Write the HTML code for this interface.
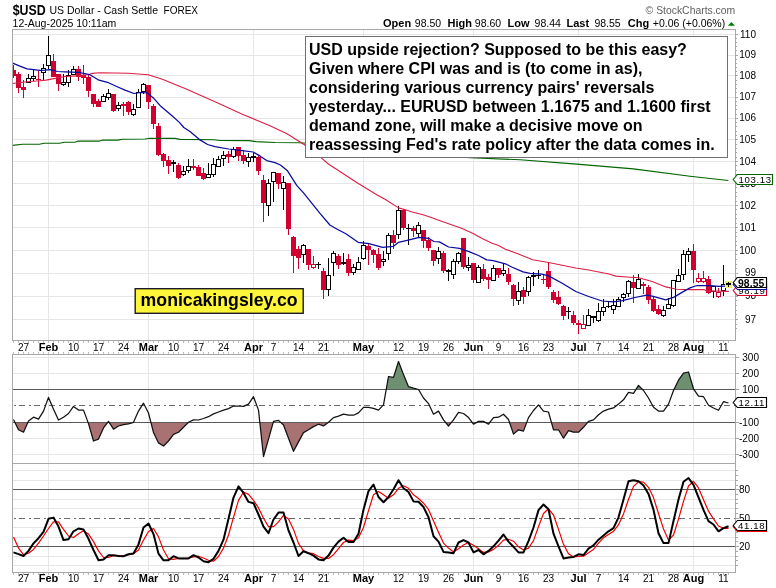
<!DOCTYPE html>
<html><head><meta charset="utf-8"><title>$USD chart</title><style>
html,body{margin:0;padding:0;background:#fff;}
body{width:776px;height:588px;position:relative;overflow:hidden;}
svg{position:absolute;left:0;top:0;display:block;}
</style></head><body>
<svg width="776" height="588" viewBox="0 0 776 588">
<g shape-rendering="crispEdges">
<rect x="13" y="319" width="722" height="1" fill="#e6e6e6"/>
<rect x="13" y="296" width="722" height="1" fill="#e6e6e6"/>
<rect x="13" y="273" width="722" height="1" fill="#e6e6e6"/>
<rect x="13" y="250" width="722" height="1" fill="#e6e6e6"/>
<rect x="13" y="227" width="722" height="1" fill="#e6e6e6"/>
<rect x="13" y="205" width="722" height="1" fill="#e6e6e6"/>
<rect x="13" y="183" width="722" height="1" fill="#e6e6e6"/>
<rect x="13" y="161" width="722" height="1" fill="#e6e6e6"/>
<rect x="13" y="139" width="722" height="1" fill="#e6e6e6"/>
<rect x="13" y="118" width="722" height="1" fill="#e6e6e6"/>
<rect x="13" y="97" width="722" height="1" fill="#e6e6e6"/>
<rect x="13" y="75" width="722" height="1" fill="#e6e6e6"/>
<rect x="13" y="55" width="722" height="1" fill="#e6e6e6"/>
<rect x="13" y="34" width="722" height="1" fill="#e6e6e6"/>
<rect x="48" y="30" width="1" height="310" fill="#e6e6e6"/>
<rect x="48" y="355" width="1" height="216" fill="#e6e6e6"/>
<rect x="148" y="30" width="1" height="310" fill="#e6e6e6"/>
<rect x="148" y="355" width="1" height="216" fill="#e6e6e6"/>
<rect x="253" y="30" width="1" height="310" fill="#e6e6e6"/>
<rect x="253" y="355" width="1" height="216" fill="#e6e6e6"/>
<rect x="363" y="30" width="1" height="310" fill="#e6e6e6"/>
<rect x="363" y="355" width="1" height="216" fill="#e6e6e6"/>
<rect x="473" y="30" width="1" height="310" fill="#e6e6e6"/>
<rect x="473" y="355" width="1" height="216" fill="#e6e6e6"/>
<rect x="578" y="30" width="1" height="310" fill="#e6e6e6"/>
<rect x="578" y="355" width="1" height="216" fill="#e6e6e6"/>
<rect x="693" y="30" width="1" height="310" fill="#e6e6e6"/>
<rect x="693" y="355" width="1" height="216" fill="#e6e6e6"/>
<rect x="13" y="357" width="722" height="1" fill="#e6e6e6"/>
<rect x="13" y="373" width="722" height="1" fill="#e6e6e6"/>
<rect x="13" y="389" width="722" height="1" fill="#5a5a5a"/>
<rect x="13" y="422" width="722" height="1" fill="#5a5a5a"/>
<rect x="13" y="438" width="722" height="1" fill="#e6e6e6"/>
<rect x="13" y="454" width="722" height="1" fill="#e6e6e6"/>
<rect x="13" y="470" width="722" height="1" fill="#e6e6e6"/>
<rect x="13" y="480" width="722" height="1" fill="#e6e6e6"/>
<rect x="13" y="489" width="722" height="1" fill="#5a5a5a"/>
<rect x="13" y="499" width="722" height="1" fill="#e6e6e6"/>
<rect x="13" y="508" width="722" height="1" fill="#e6e6e6"/>
<rect x="13" y="527" width="722" height="1" fill="#e6e6e6"/>
<rect x="13" y="537" width="722" height="1" fill="#e6e6e6"/>
<rect x="13" y="546" width="722" height="1" fill="#5a5a5a"/>
<rect x="13" y="556" width="722" height="1" fill="#e6e6e6"/>
<rect x="13" y="565" width="722" height="1" fill="#e6e6e6"/>
</g>
<line x1="13.5" y1="405.5" x2="735" y2="405.5" stroke="#6a6a6a" stroke-width="1" stroke-dasharray="2,3,6.5,3.5" shape-rendering="crispEdges"/>
<line x1="13.5" y1="518.5" x2="735" y2="518.5" stroke="#6a6a6a" stroke-width="1" stroke-dasharray="2,3,6.5,3.5" shape-rendering="crispEdges"/>
<polygon points="15.0,422.5 18.5,429.8 23.5,432.2 27.8,422.5" fill="#a87272"/>
<polygon points="88.1,422.5 88.5,423.6 93.5,441.0 98.5,439.1 103.5,427.9 107.7,422.5" fill="#a87272"/>
<polygon points="109.2,422.5 113.5,429.2 118.5,426.0 123.5,424.7 128.5,423.8 132.8,422.5" fill="#a87272"/>
<polygon points="150.9,422.5 153.5,432.6 158.5,442.9 163.5,446.0 168.5,441.0 173.5,434.4 178.5,432.2 183.5,427.3 188.3,422.5" fill="#a87272"/>
<polygon points="259.8,422.5 263.5,456.5 268.5,439.1 273.2,422.5" fill="#a87272"/>
<polygon points="280.8,422.5 283.5,425.0 288.5,438.2 293.5,451.3 298.5,441.9 303.5,432.6 308.5,429.8 313.5,426.6 318.5,424.2 323.5,426.0 328.2,422.5" fill="#a87272"/>
<polygon points="445.6,422.5 448.5,426.0 451.4,422.5" fill="#a87272"/>
<polygon points="472.2,422.5 473.5,424.2 476.5,422.5" fill="#a87272"/>
<polygon points="485.5,422.5 488.5,424.2 489.8,422.5" fill="#a87272"/>
<polygon points="509.5,422.5 513.5,434.1 518.5,429.8 523.5,431.1 526.7,422.5" fill="#a87272"/>
<polygon points="551.4,422.5 553.5,429.8 558.5,429.8 563.5,438.2 568.5,430.7 573.5,432.2 578.5,432.2 583.5,427.3 587.6,422.5" fill="#a87272"/>
<polygon points="386.2,389.5 388.5,376.5 393.5,377.4 398.5,361.5 403.5,374.6 408.5,386.7 413.5,388.2 418.5,389.5" fill="#6e9070"/>
<polygon points="635.9,389.5 638.5,385.4 642.5,389.5" fill="#6e9070"/>
<polygon points="674.0,389.5 678.5,380.2 683.5,373.1 688.5,372.0 693.5,388.8 694.0,389.5" fill="#6e9070"/>
<g shape-rendering="crispEdges">
<rect x="13" y="389" width="722" height="1" fill="#5a5a5a"/>
<rect x="13" y="422" width="722" height="1" fill="#5a5a5a"/>
</g>
<g shape-rendering="crispEdges">
<rect x="13" y="65" width="1" height="5" fill="#d00030"/>
<rect x="13" y="76" width="1" height="2" fill="#d00030"/>
<rect x="13" y="70" width="3" height="6" fill="#d00030"/>
<rect x="18" y="72" width="1" height="2" fill="#d00030"/>
<rect x="18" y="88" width="1" height="5" fill="#d00030"/>
<rect x="16" y="74" width="5" height="14" fill="#d00030"/>
<rect x="23" y="80" width="1" height="7" fill="#d00030"/>
<rect x="23" y="90" width="1" height="8" fill="#d00030"/>
<rect x="21" y="87" width="5" height="3" fill="#d00030"/>
<rect x="28" y="74" width="1" height="4" fill="#000"/>
<rect x="26" y="78" width="5" height="5" fill="#000"/>
<rect x="27" y="79" width="3" height="3" fill="#fff"/>
<rect x="33" y="70" width="1" height="6" fill="#000"/>
<rect x="33" y="79" width="1" height="2" fill="#000"/>
<rect x="31" y="76" width="5" height="3" fill="#000"/>
<rect x="32" y="77" width="3" height="1" fill="#fff"/>
<rect x="38" y="71" width="1" height="8" fill="#d00030"/>
<rect x="38" y="80" width="1" height="7" fill="#d00030"/>
<rect x="36" y="79" width="5" height="1" fill="#d00030"/>
<rect x="43" y="64" width="1" height="4" fill="#000"/>
<rect x="43" y="73" width="1" height="7" fill="#000"/>
<rect x="41" y="68" width="5" height="5" fill="#000"/>
<rect x="42" y="69" width="3" height="3" fill="#fff"/>
<rect x="48" y="36" width="1" height="19" fill="#000"/>
<rect x="48" y="66" width="1" height="3" fill="#000"/>
<rect x="46" y="55" width="5" height="11" fill="#000"/>
<rect x="47" y="56" width="3" height="9" fill="#fff"/>
<rect x="53" y="54" width="1" height="7" fill="#d00030"/>
<rect x="51" y="61" width="5" height="16" fill="#d00030"/>
<rect x="58" y="84" width="1" height="7" fill="#d00030"/>
<rect x="56" y="74" width="5" height="10" fill="#d00030"/>
<rect x="63" y="74" width="1" height="8" fill="#000"/>
<rect x="63" y="85" width="1" height="1" fill="#000"/>
<rect x="61" y="82" width="5" height="3" fill="#000"/>
<rect x="62" y="83" width="3" height="1" fill="#fff"/>
<rect x="68" y="70" width="1" height="5" fill="#000"/>
<rect x="68" y="83" width="1" height="4" fill="#000"/>
<rect x="66" y="75" width="5" height="8" fill="#000"/>
<rect x="67" y="76" width="3" height="6" fill="#fff"/>
<rect x="73" y="66" width="1" height="3" fill="#000"/>
<rect x="71" y="69" width="5" height="6" fill="#000"/>
<rect x="72" y="70" width="3" height="4" fill="#fff"/>
<rect x="78" y="66" width="1" height="3" fill="#d00030"/>
<rect x="78" y="77" width="1" height="4" fill="#d00030"/>
<rect x="76" y="69" width="5" height="8" fill="#d00030"/>
<rect x="83" y="65" width="1" height="10" fill="#d00030"/>
<rect x="83" y="78" width="1" height="6" fill="#d00030"/>
<rect x="81" y="75" width="5" height="3" fill="#d00030"/>
<rect x="88" y="75" width="1" height="2" fill="#d00030"/>
<rect x="88" y="91" width="1" height="6" fill="#d00030"/>
<rect x="86" y="77" width="5" height="14" fill="#d00030"/>
<rect x="93" y="104" width="1" height="3" fill="#d00030"/>
<rect x="91" y="94" width="5" height="10" fill="#d00030"/>
<rect x="98" y="99" width="1" height="2" fill="#d00030"/>
<rect x="96" y="101" width="5" height="6" fill="#d00030"/>
<rect x="103" y="94" width="1" height="2" fill="#000"/>
<rect x="101" y="96" width="5" height="6" fill="#000"/>
<rect x="102" y="97" width="3" height="4" fill="#fff"/>
<rect x="108" y="89" width="1" height="4" fill="#000"/>
<rect x="108" y="98" width="1" height="2" fill="#000"/>
<rect x="106" y="93" width="5" height="5" fill="#000"/>
<rect x="107" y="94" width="3" height="3" fill="#fff"/>
<rect x="113" y="111" width="1" height="1" fill="#d00030"/>
<rect x="111" y="94" width="5" height="17" fill="#d00030"/>
<rect x="118" y="102" width="1" height="3" fill="#000"/>
<rect x="118" y="109" width="1" height="2" fill="#000"/>
<rect x="116" y="105" width="5" height="4" fill="#000"/>
<rect x="117" y="106" width="3" height="2" fill="#fff"/>
<rect x="123" y="102" width="1" height="2" fill="#d00030"/>
<rect x="123" y="106" width="1" height="10" fill="#d00030"/>
<rect x="121" y="104" width="5" height="2" fill="#d00030"/>
<rect x="128" y="101" width="1" height="1" fill="#d00030"/>
<rect x="128" y="112" width="1" height="3" fill="#d00030"/>
<rect x="126" y="102" width="5" height="10" fill="#d00030"/>
<rect x="133" y="104" width="1" height="5" fill="#000"/>
<rect x="133" y="115" width="1" height="1" fill="#000"/>
<rect x="131" y="109" width="5" height="6" fill="#000"/>
<rect x="132" y="110" width="3" height="4" fill="#fff"/>
<rect x="138" y="89" width="1" height="3" fill="#000"/>
<rect x="136" y="92" width="5" height="16" fill="#000"/>
<rect x="137" y="93" width="3" height="14" fill="#fff"/>
<rect x="143" y="83" width="1" height="1" fill="#000"/>
<rect x="143" y="92" width="1" height="2" fill="#000"/>
<rect x="141" y="84" width="5" height="8" fill="#000"/>
<rect x="142" y="85" width="3" height="6" fill="#fff"/>
<rect x="148" y="102" width="1" height="7" fill="#d00030"/>
<rect x="146" y="85" width="5" height="17" fill="#d00030"/>
<rect x="153" y="104" width="1" height="2" fill="#d00030"/>
<rect x="153" y="124" width="1" height="5" fill="#d00030"/>
<rect x="151" y="106" width="5" height="18" fill="#d00030"/>
<rect x="158" y="123" width="1" height="3" fill="#d00030"/>
<rect x="158" y="155" width="1" height="1" fill="#d00030"/>
<rect x="156" y="126" width="5" height="29" fill="#d00030"/>
<rect x="163" y="153" width="1" height="1" fill="#d00030"/>
<rect x="163" y="161" width="1" height="6" fill="#d00030"/>
<rect x="161" y="154" width="5" height="7" fill="#d00030"/>
<rect x="168" y="156" width="1" height="4" fill="#d00030"/>
<rect x="168" y="166" width="1" height="8" fill="#d00030"/>
<rect x="166" y="160" width="5" height="6" fill="#d00030"/>
<rect x="173" y="160" width="1" height="2" fill="#000"/>
<rect x="173" y="164" width="1" height="8" fill="#000"/>
<rect x="171" y="162" width="5" height="2" fill="#000"/>
<rect x="178" y="163" width="1" height="2" fill="#d00030"/>
<rect x="178" y="178" width="1" height="1" fill="#d00030"/>
<rect x="176" y="165" width="5" height="13" fill="#d00030"/>
<rect x="183" y="166" width="1" height="5" fill="#000"/>
<rect x="183" y="175" width="1" height="1" fill="#000"/>
<rect x="181" y="171" width="5" height="4" fill="#000"/>
<rect x="182" y="172" width="3" height="2" fill="#fff"/>
<rect x="188" y="159" width="1" height="7" fill="#000"/>
<rect x="188" y="171" width="1" height="2" fill="#000"/>
<rect x="186" y="166" width="5" height="5" fill="#000"/>
<rect x="187" y="167" width="3" height="3" fill="#fff"/>
<rect x="193" y="159" width="1" height="7" fill="#d00030"/>
<rect x="193" y="168" width="1" height="2" fill="#d00030"/>
<rect x="191" y="166" width="5" height="2" fill="#d00030"/>
<rect x="198" y="165" width="1" height="2" fill="#d00030"/>
<rect x="196" y="167" width="5" height="9" fill="#d00030"/>
<rect x="203" y="168" width="1" height="5" fill="#d00030"/>
<rect x="203" y="179" width="1" height="1" fill="#d00030"/>
<rect x="201" y="173" width="5" height="6" fill="#d00030"/>
<rect x="208" y="163" width="1" height="11" fill="#000"/>
<rect x="206" y="174" width="5" height="4" fill="#000"/>
<rect x="207" y="175" width="3" height="2" fill="#fff"/>
<rect x="213" y="158" width="1" height="6" fill="#000"/>
<rect x="213" y="175" width="1" height="2" fill="#000"/>
<rect x="211" y="164" width="5" height="11" fill="#000"/>
<rect x="212" y="165" width="3" height="9" fill="#fff"/>
<rect x="218" y="156" width="1" height="3" fill="#000"/>
<rect x="216" y="159" width="5" height="8" fill="#000"/>
<rect x="217" y="160" width="3" height="6" fill="#fff"/>
<rect x="223" y="151" width="1" height="4" fill="#000"/>
<rect x="223" y="159" width="1" height="7" fill="#000"/>
<rect x="221" y="155" width="5" height="4" fill="#000"/>
<rect x="222" y="156" width="3" height="2" fill="#fff"/>
<rect x="228" y="151" width="1" height="3" fill="#d00030"/>
<rect x="228" y="157" width="1" height="6" fill="#d00030"/>
<rect x="226" y="154" width="5" height="3" fill="#d00030"/>
<rect x="233" y="147" width="1" height="2" fill="#000"/>
<rect x="233" y="157" width="1" height="1" fill="#000"/>
<rect x="231" y="149" width="5" height="8" fill="#000"/>
<rect x="232" y="150" width="3" height="6" fill="#fff"/>
<rect x="238" y="156" width="1" height="5" fill="#d00030"/>
<rect x="236" y="147" width="5" height="9" fill="#d00030"/>
<rect x="243" y="150" width="1" height="5" fill="#d00030"/>
<rect x="243" y="161" width="1" height="3" fill="#d00030"/>
<rect x="241" y="155" width="5" height="6" fill="#d00030"/>
<rect x="248" y="153" width="1" height="4" fill="#000"/>
<rect x="248" y="162" width="1" height="5" fill="#000"/>
<rect x="246" y="157" width="5" height="5" fill="#000"/>
<rect x="247" y="158" width="3" height="3" fill="#fff"/>
<rect x="253" y="153" width="1" height="3" fill="#000"/>
<rect x="253" y="158" width="1" height="4" fill="#000"/>
<rect x="251" y="156" width="5" height="2" fill="#000"/>
<rect x="258" y="155" width="1" height="2" fill="#d00030"/>
<rect x="258" y="171" width="1" height="4" fill="#d00030"/>
<rect x="256" y="157" width="5" height="14" fill="#d00030"/>
<rect x="263" y="175" width="1" height="5" fill="#d00030"/>
<rect x="263" y="203" width="1" height="19" fill="#d00030"/>
<rect x="261" y="180" width="5" height="23" fill="#d00030"/>
<rect x="268" y="179" width="1" height="4" fill="#000"/>
<rect x="268" y="206" width="1" height="10" fill="#000"/>
<rect x="266" y="183" width="5" height="23" fill="#000"/>
<rect x="267" y="184" width="3" height="21" fill="#fff"/>
<rect x="273" y="182" width="1" height="20" fill="#000"/>
<rect x="271" y="172" width="5" height="10" fill="#000"/>
<rect x="272" y="173" width="3" height="8" fill="#fff"/>
<rect x="278" y="184" width="1" height="5" fill="#d00030"/>
<rect x="276" y="173" width="5" height="11" fill="#d00030"/>
<rect x="283" y="176" width="1" height="6" fill="#000"/>
<rect x="283" y="189" width="1" height="21" fill="#000"/>
<rect x="281" y="182" width="5" height="7" fill="#000"/>
<rect x="282" y="183" width="3" height="5" fill="#fff"/>
<rect x="288" y="229" width="1" height="6" fill="#d00030"/>
<rect x="286" y="183" width="5" height="46" fill="#d00030"/>
<rect x="293" y="236" width="1" height="1" fill="#d00030"/>
<rect x="293" y="256" width="1" height="17" fill="#d00030"/>
<rect x="291" y="237" width="5" height="19" fill="#d00030"/>
<rect x="298" y="246" width="1" height="3" fill="#d00030"/>
<rect x="298" y="258" width="1" height="11" fill="#d00030"/>
<rect x="296" y="249" width="5" height="9" fill="#d00030"/>
<rect x="303" y="244" width="1" height="1" fill="#000"/>
<rect x="303" y="255" width="1" height="8" fill="#000"/>
<rect x="301" y="245" width="5" height="10" fill="#000"/>
<rect x="302" y="246" width="3" height="8" fill="#fff"/>
<rect x="308" y="265" width="1" height="5" fill="#d00030"/>
<rect x="306" y="249" width="5" height="16" fill="#d00030"/>
<rect x="313" y="256" width="1" height="8" fill="#d00030"/>
<rect x="313" y="268" width="1" height="1" fill="#d00030"/>
<rect x="311" y="264" width="5" height="4" fill="#d00030"/>
<rect x="312" y="265" width="3" height="2" fill="#fff"/>
<rect x="318" y="262" width="1" height="2" fill="#000"/>
<rect x="318" y="265" width="1" height="4" fill="#000"/>
<rect x="316" y="264" width="5" height="1" fill="#000"/>
<rect x="323" y="268" width="1" height="3" fill="#d00030"/>
<rect x="323" y="290" width="1" height="9" fill="#d00030"/>
<rect x="321" y="271" width="5" height="19" fill="#d00030"/>
<rect x="328" y="258" width="1" height="17" fill="#000"/>
<rect x="328" y="290" width="1" height="6" fill="#000"/>
<rect x="326" y="275" width="5" height="15" fill="#000"/>
<rect x="327" y="276" width="3" height="13" fill="#fff"/>
<rect x="333" y="251" width="1" height="2" fill="#000"/>
<rect x="333" y="263" width="1" height="13" fill="#000"/>
<rect x="331" y="253" width="5" height="10" fill="#000"/>
<rect x="332" y="254" width="3" height="8" fill="#fff"/>
<rect x="338" y="254" width="1" height="2" fill="#d00030"/>
<rect x="338" y="265" width="1" height="4" fill="#d00030"/>
<rect x="336" y="256" width="5" height="9" fill="#d00030"/>
<rect x="343" y="253" width="1" height="9" fill="#000"/>
<rect x="343" y="264" width="1" height="1" fill="#000"/>
<rect x="341" y="262" width="5" height="2" fill="#000"/>
<rect x="348" y="254" width="1" height="5" fill="#d00030"/>
<rect x="348" y="273" width="1" height="3" fill="#d00030"/>
<rect x="346" y="259" width="5" height="14" fill="#d00030"/>
<rect x="353" y="264" width="1" height="3" fill="#000"/>
<rect x="353" y="273" width="1" height="2" fill="#000"/>
<rect x="351" y="267" width="5" height="6" fill="#000"/>
<rect x="352" y="268" width="3" height="4" fill="#fff"/>
<rect x="358" y="257" width="1" height="5" fill="#000"/>
<rect x="356" y="262" width="5" height="8" fill="#000"/>
<rect x="357" y="263" width="3" height="6" fill="#fff"/>
<rect x="363" y="241" width="1" height="4" fill="#000"/>
<rect x="363" y="259" width="1" height="1" fill="#000"/>
<rect x="361" y="245" width="5" height="14" fill="#000"/>
<rect x="362" y="246" width="3" height="12" fill="#fff"/>
<rect x="368" y="244" width="1" height="2" fill="#d00030"/>
<rect x="368" y="250" width="1" height="15" fill="#d00030"/>
<rect x="366" y="246" width="5" height="4" fill="#d00030"/>
<rect x="373" y="249" width="1" height="1" fill="#d00030"/>
<rect x="373" y="255" width="1" height="8" fill="#d00030"/>
<rect x="371" y="250" width="5" height="5" fill="#d00030"/>
<rect x="378" y="248" width="1" height="6" fill="#d00030"/>
<rect x="378" y="268" width="1" height="2" fill="#d00030"/>
<rect x="376" y="254" width="5" height="14" fill="#d00030"/>
<rect x="383" y="251" width="1" height="8" fill="#000"/>
<rect x="383" y="262" width="1" height="4" fill="#000"/>
<rect x="381" y="259" width="5" height="3" fill="#000"/>
<rect x="382" y="260" width="3" height="1" fill="#fff"/>
<rect x="388" y="233" width="1" height="2" fill="#000"/>
<rect x="388" y="254" width="1" height="6" fill="#000"/>
<rect x="386" y="235" width="5" height="19" fill="#000"/>
<rect x="387" y="236" width="3" height="17" fill="#fff"/>
<rect x="393" y="230" width="1" height="5" fill="#d00030"/>
<rect x="393" y="243" width="1" height="6" fill="#d00030"/>
<rect x="391" y="235" width="5" height="8" fill="#d00030"/>
<rect x="398" y="206" width="1" height="4" fill="#000"/>
<rect x="398" y="235" width="1" height="4" fill="#000"/>
<rect x="396" y="210" width="5" height="25" fill="#000"/>
<rect x="397" y="211" width="3" height="23" fill="#fff"/>
<rect x="403" y="209" width="1" height="1" fill="#d00030"/>
<rect x="403" y="228" width="1" height="2" fill="#d00030"/>
<rect x="401" y="210" width="5" height="18" fill="#d00030"/>
<rect x="408" y="224" width="1" height="4" fill="#000"/>
<rect x="408" y="229" width="1" height="16" fill="#000"/>
<rect x="406" y="228" width="5" height="1" fill="#000"/>
<rect x="413" y="226" width="1" height="2" fill="#d00030"/>
<rect x="413" y="231" width="1" height="6" fill="#d00030"/>
<rect x="411" y="228" width="5" height="3" fill="#d00030"/>
<rect x="418" y="222" width="1" height="3" fill="#000"/>
<rect x="418" y="234" width="1" height="3" fill="#000"/>
<rect x="416" y="225" width="5" height="9" fill="#000"/>
<rect x="417" y="226" width="3" height="7" fill="#fff"/>
<rect x="423" y="241" width="1" height="7" fill="#d00030"/>
<rect x="421" y="230" width="5" height="11" fill="#d00030"/>
<rect x="428" y="237" width="1" height="3" fill="#d00030"/>
<rect x="428" y="248" width="1" height="3" fill="#d00030"/>
<rect x="426" y="240" width="5" height="8" fill="#d00030"/>
<rect x="433" y="261" width="1" height="5" fill="#d00030"/>
<rect x="431" y="250" width="5" height="11" fill="#d00030"/>
<rect x="438" y="247" width="1" height="4" fill="#000"/>
<rect x="438" y="259" width="1" height="5" fill="#000"/>
<rect x="436" y="251" width="5" height="8" fill="#000"/>
<rect x="437" y="252" width="3" height="6" fill="#fff"/>
<rect x="443" y="251" width="1" height="2" fill="#d00030"/>
<rect x="443" y="271" width="1" height="2" fill="#d00030"/>
<rect x="441" y="253" width="5" height="18" fill="#d00030"/>
<rect x="448" y="269" width="1" height="1" fill="#000"/>
<rect x="448" y="272" width="1" height="9" fill="#000"/>
<rect x="446" y="270" width="5" height="2" fill="#000"/>
<rect x="453" y="259" width="1" height="2" fill="#000"/>
<rect x="453" y="275" width="1" height="4" fill="#000"/>
<rect x="451" y="261" width="5" height="14" fill="#000"/>
<rect x="452" y="262" width="3" height="12" fill="#fff"/>
<rect x="458" y="252" width="1" height="1" fill="#000"/>
<rect x="458" y="262" width="1" height="2" fill="#000"/>
<rect x="456" y="253" width="5" height="9" fill="#000"/>
<rect x="457" y="254" width="3" height="7" fill="#fff"/>
<rect x="463" y="267" width="1" height="2" fill="#d00030"/>
<rect x="461" y="238" width="5" height="29" fill="#d00030"/>
<rect x="468" y="257" width="1" height="8" fill="#000"/>
<rect x="468" y="268" width="1" height="3" fill="#000"/>
<rect x="466" y="265" width="5" height="3" fill="#000"/>
<rect x="467" y="266" width="3" height="1" fill="#fff"/>
<rect x="473" y="280" width="1" height="3" fill="#d00030"/>
<rect x="471" y="263" width="5" height="17" fill="#d00030"/>
<rect x="478" y="265" width="1" height="2" fill="#000"/>
<rect x="476" y="267" width="5" height="16" fill="#000"/>
<rect x="477" y="268" width="3" height="14" fill="#fff"/>
<rect x="483" y="264" width="1" height="5" fill="#d00030"/>
<rect x="483" y="279" width="1" height="2" fill="#d00030"/>
<rect x="481" y="269" width="5" height="10" fill="#d00030"/>
<rect x="488" y="274" width="1" height="3" fill="#d00030"/>
<rect x="488" y="280" width="1" height="9" fill="#d00030"/>
<rect x="486" y="277" width="5" height="3" fill="#d00030"/>
<rect x="493" y="265" width="1" height="3" fill="#000"/>
<rect x="491" y="268" width="5" height="13" fill="#000"/>
<rect x="492" y="269" width="3" height="11" fill="#fff"/>
<rect x="498" y="275" width="1" height="3" fill="#d00030"/>
<rect x="496" y="268" width="5" height="7" fill="#d00030"/>
<rect x="503" y="264" width="1" height="6" fill="#000"/>
<rect x="503" y="274" width="1" height="2" fill="#000"/>
<rect x="501" y="270" width="5" height="4" fill="#000"/>
<rect x="502" y="271" width="3" height="2" fill="#fff"/>
<rect x="508" y="268" width="1" height="6" fill="#d00030"/>
<rect x="508" y="282" width="1" height="3" fill="#d00030"/>
<rect x="506" y="274" width="5" height="8" fill="#d00030"/>
<rect x="513" y="284" width="1" height="1" fill="#d00030"/>
<rect x="513" y="299" width="1" height="7" fill="#d00030"/>
<rect x="511" y="285" width="5" height="14" fill="#d00030"/>
<rect x="518" y="282" width="1" height="9" fill="#000"/>
<rect x="518" y="301" width="1" height="4" fill="#000"/>
<rect x="516" y="291" width="5" height="10" fill="#000"/>
<rect x="517" y="292" width="3" height="8" fill="#fff"/>
<rect x="523" y="287" width="1" height="3" fill="#d00030"/>
<rect x="523" y="297" width="1" height="7" fill="#d00030"/>
<rect x="521" y="290" width="5" height="7" fill="#d00030"/>
<rect x="528" y="276" width="1" height="1" fill="#000"/>
<rect x="528" y="292" width="1" height="4" fill="#000"/>
<rect x="526" y="277" width="5" height="15" fill="#000"/>
<rect x="527" y="278" width="3" height="13" fill="#fff"/>
<rect x="533" y="272" width="1" height="3" fill="#000"/>
<rect x="533" y="277" width="1" height="9" fill="#000"/>
<rect x="531" y="275" width="5" height="2" fill="#000"/>
<rect x="538" y="270" width="1" height="5" fill="#000"/>
<rect x="538" y="276" width="1" height="3" fill="#000"/>
<rect x="536" y="275" width="5" height="1" fill="#000"/>
<rect x="543" y="275" width="1" height="4" fill="#d00030"/>
<rect x="543" y="280" width="1" height="4" fill="#d00030"/>
<rect x="541" y="279" width="5" height="1" fill="#d00030"/>
<rect x="548" y="263" width="1" height="8" fill="#d00030"/>
<rect x="548" y="287" width="1" height="2" fill="#d00030"/>
<rect x="546" y="271" width="5" height="16" fill="#d00030"/>
<rect x="553" y="290" width="1" height="2" fill="#d00030"/>
<rect x="553" y="300" width="1" height="3" fill="#d00030"/>
<rect x="551" y="292" width="5" height="8" fill="#d00030"/>
<rect x="558" y="291" width="1" height="6" fill="#d00030"/>
<rect x="558" y="304" width="1" height="1" fill="#d00030"/>
<rect x="556" y="297" width="5" height="7" fill="#d00030"/>
<rect x="563" y="305" width="1" height="1" fill="#d00030"/>
<rect x="563" y="316" width="1" height="4" fill="#d00030"/>
<rect x="561" y="306" width="5" height="10" fill="#d00030"/>
<rect x="568" y="307" width="1" height="4" fill="#000"/>
<rect x="568" y="312" width="1" height="7" fill="#000"/>
<rect x="566" y="311" width="5" height="1" fill="#000"/>
<rect x="573" y="311" width="1" height="4" fill="#d00030"/>
<rect x="573" y="323" width="1" height="2" fill="#d00030"/>
<rect x="571" y="315" width="5" height="8" fill="#d00030"/>
<rect x="578" y="320" width="1" height="3" fill="#d00030"/>
<rect x="578" y="325" width="1" height="9" fill="#d00030"/>
<rect x="576" y="323" width="5" height="2" fill="#d00030"/>
<rect x="583" y="315" width="1" height="9" fill="#d00030"/>
<rect x="581" y="324" width="5" height="5" fill="#d00030"/>
<rect x="582" y="325" width="3" height="3" fill="#fff"/>
<rect x="588" y="309" width="1" height="6" fill="#000"/>
<rect x="586" y="315" width="5" height="11" fill="#000"/>
<rect x="587" y="316" width="3" height="9" fill="#fff"/>
<rect x="593" y="318" width="1" height="5" fill="#000"/>
<rect x="591" y="316" width="5" height="2" fill="#000"/>
<rect x="598" y="303" width="1" height="8" fill="#000"/>
<rect x="598" y="321" width="1" height="1" fill="#000"/>
<rect x="596" y="311" width="5" height="10" fill="#000"/>
<rect x="597" y="312" width="3" height="8" fill="#fff"/>
<rect x="603" y="299" width="1" height="8" fill="#000"/>
<rect x="603" y="312" width="1" height="4" fill="#000"/>
<rect x="601" y="307" width="5" height="5" fill="#000"/>
<rect x="602" y="308" width="3" height="3" fill="#fff"/>
<rect x="608" y="302" width="1" height="4" fill="#000"/>
<rect x="608" y="307" width="1" height="1" fill="#000"/>
<rect x="606" y="306" width="5" height="1" fill="#000"/>
<rect x="613" y="299" width="1" height="6" fill="#000"/>
<rect x="613" y="310" width="1" height="4" fill="#000"/>
<rect x="611" y="305" width="5" height="5" fill="#000"/>
<rect x="612" y="306" width="3" height="3" fill="#fff"/>
<rect x="618" y="297" width="1" height="2" fill="#000"/>
<rect x="616" y="299" width="5" height="8" fill="#000"/>
<rect x="617" y="300" width="3" height="6" fill="#fff"/>
<rect x="623" y="293" width="1" height="1" fill="#000"/>
<rect x="623" y="298" width="1" height="4" fill="#000"/>
<rect x="621" y="294" width="5" height="4" fill="#000"/>
<rect x="622" y="295" width="3" height="2" fill="#fff"/>
<rect x="628" y="280" width="1" height="1" fill="#000"/>
<rect x="628" y="294" width="1" height="3" fill="#000"/>
<rect x="626" y="281" width="5" height="13" fill="#000"/>
<rect x="627" y="282" width="3" height="11" fill="#fff"/>
<rect x="633" y="275" width="1" height="7" fill="#d00030"/>
<rect x="633" y="288" width="1" height="15" fill="#d00030"/>
<rect x="631" y="282" width="5" height="6" fill="#d00030"/>
<rect x="638" y="274" width="1" height="5" fill="#000"/>
<rect x="636" y="279" width="5" height="10" fill="#000"/>
<rect x="637" y="280" width="3" height="8" fill="#fff"/>
<rect x="643" y="282" width="1" height="2" fill="#d00030"/>
<rect x="643" y="286" width="1" height="8" fill="#d00030"/>
<rect x="641" y="284" width="5" height="2" fill="#d00030"/>
<rect x="648" y="285" width="1" height="2" fill="#d00030"/>
<rect x="648" y="300" width="1" height="4" fill="#d00030"/>
<rect x="646" y="287" width="5" height="13" fill="#d00030"/>
<rect x="653" y="297" width="1" height="2" fill="#d00030"/>
<rect x="653" y="311" width="1" height="1" fill="#d00030"/>
<rect x="651" y="299" width="5" height="12" fill="#d00030"/>
<rect x="658" y="305" width="1" height="4" fill="#d00030"/>
<rect x="658" y="314" width="1" height="1" fill="#d00030"/>
<rect x="656" y="309" width="5" height="5" fill="#d00030"/>
<rect x="663" y="306" width="1" height="4" fill="#000"/>
<rect x="663" y="316" width="1" height="1" fill="#000"/>
<rect x="661" y="310" width="5" height="6" fill="#000"/>
<rect x="662" y="311" width="3" height="4" fill="#fff"/>
<rect x="668" y="298" width="1" height="6" fill="#000"/>
<rect x="666" y="304" width="5" height="5" fill="#000"/>
<rect x="667" y="305" width="3" height="3" fill="#fff"/>
<rect x="673" y="306" width="1" height="1" fill="#000"/>
<rect x="671" y="280" width="5" height="26" fill="#000"/>
<rect x="672" y="281" width="3" height="24" fill="#fff"/>
<rect x="678" y="269" width="1" height="6" fill="#000"/>
<rect x="676" y="275" width="5" height="7" fill="#000"/>
<rect x="677" y="276" width="3" height="5" fill="#fff"/>
<rect x="683" y="250" width="1" height="4" fill="#000"/>
<rect x="683" y="275" width="1" height="5" fill="#000"/>
<rect x="681" y="254" width="5" height="21" fill="#000"/>
<rect x="682" y="255" width="3" height="19" fill="#fff"/>
<rect x="688" y="248" width="1" height="3" fill="#000"/>
<rect x="688" y="255" width="1" height="7" fill="#000"/>
<rect x="686" y="251" width="5" height="4" fill="#000"/>
<rect x="687" y="252" width="3" height="2" fill="#fff"/>
<rect x="693" y="244" width="1" height="7" fill="#d00030"/>
<rect x="693" y="270" width="1" height="13" fill="#d00030"/>
<rect x="691" y="251" width="5" height="19" fill="#d00030"/>
<rect x="698" y="273" width="1" height="5" fill="#d00030"/>
<rect x="698" y="282" width="1" height="1" fill="#d00030"/>
<rect x="696" y="278" width="5" height="4" fill="#d00030"/>
<rect x="697" y="279" width="3" height="2" fill="#fff"/>
<rect x="703" y="271" width="1" height="7" fill="#d00030"/>
<rect x="703" y="282" width="1" height="1" fill="#d00030"/>
<rect x="701" y="278" width="5" height="4" fill="#d00030"/>
<rect x="702" y="279" width="3" height="2" fill="#fff"/>
<rect x="708" y="276" width="1" height="3" fill="#d00030"/>
<rect x="708" y="293" width="1" height="1" fill="#d00030"/>
<rect x="706" y="279" width="5" height="14" fill="#d00030"/>
<rect x="713" y="292" width="1" height="6" fill="#000"/>
<rect x="711" y="286" width="5" height="6" fill="#000"/>
<rect x="712" y="287" width="3" height="4" fill="#fff"/>
<rect x="718" y="288" width="1" height="4" fill="#d00030"/>
<rect x="718" y="297" width="1" height="1" fill="#d00030"/>
<rect x="716" y="292" width="5" height="5" fill="#d00030"/>
<rect x="717" y="293" width="3" height="3" fill="#fff"/>
<rect x="723" y="265" width="1" height="19" fill="#000"/>
<rect x="723" y="291" width="1" height="5" fill="#000"/>
<rect x="721" y="284" width="5" height="7" fill="#000"/>
<rect x="722" y="285" width="3" height="5" fill="#fff"/>
<rect x="728" y="282" width="1" height="1" fill="#000"/>
<rect x="726" y="283" width="5" height="3" fill="#000"/>
<rect x="727" y="284" width="3" height="1" fill="#fff"/>
</g>
<polyline points="12.6,145.4 22.4,144.3 39.4,144.3 44.0,143.2 59.5,143.2 64.0,142.2 75.0,142.2 78.0,141.1 99.6,141.1 102.7,140.1 118.0,140.1 122.8,139.2 145.0,139.0 150.0,138.3 175.0,138.4 180.0,139.4 214.0,139.7 220.0,140.5 249.0,140.6 256.0,141.6 275.0,142.5 300.0,142.8 310.0,143.5 470.0,157.8 520.0,159.8 576.7,164.1 633.4,168.9 690.0,176.3 728.4,180.5" fill="none" stroke="#006400" stroke-width="1.1" stroke-linejoin="round" />
<polyline points="12.6,83.5 20.0,82.5 30.0,81.5 40.0,80.8 46.0,80.1 50.0,79.4 65.0,76.5 78.6,75.9 89.5,74.2 92.2,73.4 100.0,72.8 128.4,73.3 148.2,74.7 162.4,79.3 185.0,88.4 213.4,101.1 241.8,113.9 270.0,125.8 287.0,133.7 304.1,144.5 321.3,157.8 328.4,164.0 356.7,182.5 377.2,195.0 385.0,199.3 398.6,207.9 405.4,209.7 412.2,212.0 423.1,214.7 432.6,218.1 448.6,223.8 462.2,228.6 473.1,233.4 482.6,238.8 492.1,243.3 498.6,245.4 505.4,249.2 519.0,254.3 532.6,259.7 548.6,262.5 562.2,265.2 575.8,268.0 588.6,270.0 609.0,274.0 615.8,276.1 626.7,277.0 638.6,277.8 652.2,281.5 665.8,286.9 676.7,289.3 690.0,289.6 703.6,289.6 707.0,290.9 728.8,291.4" fill="none" stroke="#dc1e46" stroke-width="1.1" stroke-linejoin="round" />
<polyline points="12.6,63.1 20.0,66.2 27.0,68.9 33.5,69.7 40.0,70.4 45.0,70.2 50.0,69.6 57.6,71.5 65.0,71.8 78.6,72.4 89.5,74.5 99.0,80.2 108.5,82.7 116.7,86.5 125.0,90.1 134.0,93.5 140.4,92.5 147.0,92.8 154.0,98.6 160.8,106.3 170.0,114.0 179.4,122.4 183.8,127.5 190.0,131.6 199.5,139.6 207.6,144.5 215.0,146.6 228.6,149.0 242.2,150.7 253.1,152.0 259.9,155.9 266.7,160.6 275.0,162.7 280.4,165.0 287.2,170.4 296.7,185.4 303.5,192.9 320.0,213.3 329.9,225.0 336.7,229.0 345.9,233.8 358.1,242.3 369.0,243.7 382.6,247.4 393.2,246.4 398.6,242.3 412.2,239.2 419.0,237.4 428.5,238.3 434.0,241.5 439.4,241.9 448.6,247.0 459.5,248.3 469.0,251.7 478.5,255.5 486.7,259.9 493.2,260.6 505.4,263.8 512.2,267.2 523.1,271.9 529.9,273.3 541.8,274.2 548.6,275.9 562.2,283.3 575.8,291.5 588.6,296.5 602.2,301.0 613.1,301.9 622.6,300.6 635.0,297.5 646.8,295.1 652.2,296.1 665.8,299.9 674.0,297.1 685.0,290.6 690.0,287.9 696.8,285.5 710.4,285.7 718.6,286.4 725.5,286.2" fill="none" stroke="#0a0aa0" stroke-width="1.25" stroke-linejoin="round" />
<polyline points="13.5,419.5 18.5,429.8 23.5,432.2 28.5,421.0 33.5,417.2 38.5,419.1 43.5,411.1 48.5,397.4 53.5,409.2 58.5,420.0 63.5,417.2 68.5,413.5 73.5,406.4 78.5,410.1 83.5,410.1 88.5,423.6 93.5,441.0 98.5,439.1 103.5,427.9 108.5,421.4 113.5,429.2 118.5,426.0 123.5,424.7 128.5,423.8 133.5,422.3 138.5,411.1 143.5,403.2 148.5,413.0 153.5,432.6 158.5,442.9 163.5,446.0 168.5,441.0 173.5,434.4 178.5,432.2 183.5,427.3 188.5,422.3 193.5,419.9 198.5,420.0 203.5,418.5 208.5,416.7 213.5,413.9 218.5,412.0 223.5,410.1 228.5,408.6 233.5,406.0 238.5,406.0 243.5,406.4 248.5,404.1 253.5,396.7 258.5,410.1 263.5,456.5 268.5,439.1 273.5,421.4 278.5,420.4 283.5,425.0 288.5,438.2 293.5,451.3 298.5,441.9 303.5,432.6 308.5,429.8 313.5,426.6 318.5,424.2 323.5,426.0 328.5,422.3 333.5,417.6 338.5,416.1 343.5,414.2 348.5,415.2 353.5,415.2 358.5,412.9 363.5,407.3 368.5,407.3 373.5,408.3 378.5,410.1 383.5,404.9 388.5,376.5 393.5,377.4 398.5,361.5 403.5,374.6 408.5,386.7 413.5,388.2 418.5,389.5 423.5,398.0 428.5,403.6 433.5,414.2 438.5,411.1 443.5,419.9 448.5,426.0 453.5,419.9 458.5,412.4 463.5,413.5 468.5,417.6 473.5,424.2 478.5,421.4 483.5,421.4 488.5,424.2 493.5,417.6 498.5,417.2 503.5,414.2 508.5,419.5 513.5,434.1 518.5,429.8 523.5,431.1 528.5,417.6 533.5,410.5 538.5,404.9 543.5,411.1 548.5,412.0 553.5,429.8 558.5,429.8 563.5,438.2 568.5,430.7 573.5,432.2 578.5,432.2 583.5,427.3 588.5,421.4 593.5,419.9 598.5,414.8 603.5,411.1 608.5,409.2 613.5,407.9 618.5,404.1 623.5,399.8 628.5,392.4 633.5,393.3 638.5,385.4 643.5,390.5 648.5,398.0 653.5,407.3 658.5,411.1 663.5,411.1 668.5,404.1 673.5,390.5 678.5,380.2 683.5,373.1 688.5,372.0 693.5,388.8 698.5,396.2 703.5,396.7 708.5,405.3 713.5,408.0 718.5,410.3 723.5,401.7 728.5,403.0" fill="none" stroke="#111" stroke-width="1.25" stroke-linejoin="round" />
<polyline points="13.5,536.9 18.5,548.1 23.5,554.7 28.5,553.2 33.5,549.4 38.5,543.1 43.5,536.0 48.5,528.5 53.5,521.9 58.5,521.9 63.5,529.4 68.5,536.0 73.5,537.5 78.5,533.7 83.5,530.7 88.5,534.1 93.5,541.6 98.5,550.9 103.5,557.5 108.5,557.5 113.5,555.6 118.5,555.6 123.5,556.0 128.5,554.7 133.5,553.7 138.5,550.0 143.5,540.1 148.5,531.5 153.5,528.5 158.5,536.9 163.5,550.0 168.5,558.8 173.5,559.4 178.5,558.4 183.5,558.4 188.5,558.0 193.5,556.9 198.5,556.2 203.5,558.0 208.5,560.3 213.5,561.2 218.5,556.5 223.5,548.1 228.5,535.0 233.5,517.3 238.5,500.4 243.5,492.0 248.5,494.4 253.5,500.4 258.5,507.9 263.5,518.2 268.5,526.6 273.5,526.6 278.5,521.9 283.5,515.4 288.5,519.1 293.5,529.4 298.5,543.4 303.5,550.9 308.5,553.2 313.5,553.7 318.5,556.5 323.5,558.4 328.5,558.4 333.5,554.7 338.5,548.7 343.5,542.5 348.5,540.1 353.5,540.6 358.5,537.8 363.5,527.5 368.5,510.7 373.5,494.8 378.5,491.4 383.5,494.8 388.5,498.2 393.5,494.8 398.5,488.3 403.5,485.8 408.5,488.3 413.5,494.8 418.5,498.5 423.5,503.2 428.5,509.4 433.5,521.0 438.5,532.2 443.5,543.1 448.5,548.1 453.5,551.9 458.5,548.7 463.5,545.0 468.5,542.5 473.5,545.3 478.5,548.7 483.5,552.4 488.5,551.9 493.5,549.4 498.5,545.3 503.5,540.1 508.5,539.3 513.5,541.2 518.5,546.8 523.5,550.0 528.5,548.1 533.5,540.6 538.5,526.6 543.5,513.5 548.5,508.8 553.5,515.0 558.5,529.4 563.5,544.4 568.5,553.7 573.5,556.9 578.5,556.5 583.5,556.2 588.5,552.8 593.5,549.4 598.5,543.1 603.5,537.8 608.5,534.5 613.5,531.3 618.5,524.7 623.5,513.9 628.5,499.5 633.5,486.4 638.5,481.7 643.5,482.1 648.5,487.3 653.5,497.6 658.5,513.5 663.5,528.9 668.5,540.1 673.5,535.0 678.5,519.1 683.5,501.4 688.5,486.0 693.5,481.3 698.5,487.9 703.5,499.8 708.5,511.1 713.5,518.8 718.5,526.0 723.5,528.3 728.5,528.3" fill="none" stroke="#f00000" stroke-width="1.2" stroke-linejoin="round" />
<polyline points="13.5,552.4 18.5,554.1 23.5,556.0 28.5,550.9 33.5,543.4 38.5,538.2 43.5,531.8 48.5,518.8 53.5,517.6 58.5,526.6 63.5,540.1 68.5,539.3 73.5,531.3 78.5,528.5 83.5,529.4 88.5,538.8 93.5,550.0 98.5,560.3 103.5,559.4 108.5,555.2 113.5,555.2 118.5,556.0 123.5,556.2 128.5,554.3 133.5,553.4 138.5,544.4 143.5,527.5 148.5,523.5 153.5,534.1 158.5,553.7 163.5,560.3 168.5,560.3 173.5,556.2 178.5,558.4 183.5,558.4 188.5,558.4 193.5,555.2 198.5,557.5 203.5,561.2 208.5,562.2 213.5,558.8 218.5,550.9 223.5,539.7 228.5,518.8 233.5,497.6 238.5,486.4 243.5,492.9 248.5,501.9 253.5,503.2 258.5,514.5 263.5,526.6 268.5,533.2 273.5,519.5 278.5,512.6 283.5,512.6 288.5,530.4 293.5,542.5 298.5,556.0 303.5,551.3 308.5,553.2 313.5,555.6 318.5,559.4 323.5,560.3 328.5,555.6 333.5,547.6 338.5,541.6 343.5,537.8 348.5,542.0 353.5,542.0 358.5,533.7 363.5,509.8 368.5,491.1 373.5,484.5 378.5,497.0 383.5,502.3 388.5,497.0 393.5,489.2 398.5,480.2 403.5,488.3 408.5,492.0 413.5,501.4 418.5,501.7 423.5,507.0 428.5,517.3 433.5,536.3 438.5,541.6 443.5,551.9 448.5,552.4 453.5,553.2 458.5,542.5 463.5,540.1 468.5,542.5 473.5,552.4 478.5,550.0 483.5,554.3 488.5,550.9 493.5,546.3 498.5,540.6 503.5,534.5 508.5,541.6 513.5,546.8 518.5,552.4 523.5,552.4 528.5,541.2 533.5,527.5 538.5,510.1 543.5,504.5 548.5,509.3 553.5,533.7 558.5,546.3 563.5,558.4 568.5,557.5 573.5,556.9 578.5,554.3 583.5,555.0 588.5,548.7 593.5,545.3 598.5,539.7 603.5,535.6 608.5,531.3 613.5,528.1 618.5,517.3 623.5,499.5 628.5,481.3 633.5,480.2 638.5,481.3 643.5,485.5 648.5,493.9 653.5,509.8 658.5,533.2 663.5,543.1 668.5,543.1 673.5,521.0 678.5,499.5 683.5,481.7 688.5,478.0 693.5,484.9 698.5,497.4 703.5,509.9 708.5,521.2 713.5,524.5 718.5,531.3 723.5,528.1 728.5,526.2" fill="none" stroke="#000" stroke-width="2.0" stroke-linejoin="round" />
<g shape-rendering="crispEdges" fill="#a8a8a8">
<rect x="12" y="29" width="724" height="1"/>
<rect x="12" y="340" width="724" height="1"/>
<rect x="12" y="29" width="1" height="312"/>
<rect x="735" y="29" width="1" height="312"/>
<rect x="12" y="354" width="724" height="1"/>
<rect x="12" y="463" width="724" height="1"/>
<rect x="12" y="354" width="1" height="110"/>
<rect x="735" y="354" width="1" height="110"/>
<rect x="12" y="463" width="724" height="1"/>
<rect x="12" y="572" width="724" height="1"/>
<rect x="12" y="463" width="1" height="110"/>
<rect x="735" y="463" width="1" height="110"/>
<rect x="13" y="341" width="1" height="2" fill="#bdbdbd"/>
<rect x="13" y="352" width="1" height="2" fill="#bdbdbd"/>
<rect x="13" y="573" width="1" height="2" fill="#bdbdbd"/>
<rect x="18" y="341" width="1" height="2" fill="#bdbdbd"/>
<rect x="18" y="352" width="1" height="2" fill="#bdbdbd"/>
<rect x="18" y="573" width="1" height="2" fill="#bdbdbd"/>
<rect x="23" y="341" width="1" height="2" fill="#bdbdbd"/>
<rect x="23" y="352" width="1" height="2" fill="#bdbdbd"/>
<rect x="23" y="573" width="1" height="2" fill="#bdbdbd"/>
<rect x="28" y="341" width="1" height="2" fill="#bdbdbd"/>
<rect x="28" y="352" width="1" height="2" fill="#bdbdbd"/>
<rect x="28" y="573" width="1" height="2" fill="#bdbdbd"/>
<rect x="33" y="341" width="1" height="2" fill="#bdbdbd"/>
<rect x="33" y="352" width="1" height="2" fill="#bdbdbd"/>
<rect x="33" y="573" width="1" height="2" fill="#bdbdbd"/>
<rect x="38" y="341" width="1" height="2" fill="#bdbdbd"/>
<rect x="38" y="352" width="1" height="2" fill="#bdbdbd"/>
<rect x="38" y="573" width="1" height="2" fill="#bdbdbd"/>
<rect x="43" y="341" width="1" height="2" fill="#bdbdbd"/>
<rect x="43" y="352" width="1" height="2" fill="#bdbdbd"/>
<rect x="43" y="573" width="1" height="2" fill="#bdbdbd"/>
<rect x="48" y="341" width="1" height="2" fill="#bdbdbd"/>
<rect x="48" y="352" width="1" height="2" fill="#bdbdbd"/>
<rect x="48" y="573" width="1" height="2" fill="#bdbdbd"/>
<rect x="53" y="341" width="1" height="2" fill="#bdbdbd"/>
<rect x="53" y="352" width="1" height="2" fill="#bdbdbd"/>
<rect x="53" y="573" width="1" height="2" fill="#bdbdbd"/>
<rect x="58" y="341" width="1" height="2" fill="#bdbdbd"/>
<rect x="58" y="352" width="1" height="2" fill="#bdbdbd"/>
<rect x="58" y="573" width="1" height="2" fill="#bdbdbd"/>
<rect x="63" y="341" width="1" height="2" fill="#bdbdbd"/>
<rect x="63" y="352" width="1" height="2" fill="#bdbdbd"/>
<rect x="63" y="573" width="1" height="2" fill="#bdbdbd"/>
<rect x="68" y="341" width="1" height="2" fill="#bdbdbd"/>
<rect x="68" y="352" width="1" height="2" fill="#bdbdbd"/>
<rect x="68" y="573" width="1" height="2" fill="#bdbdbd"/>
<rect x="73" y="341" width="1" height="2" fill="#bdbdbd"/>
<rect x="73" y="352" width="1" height="2" fill="#bdbdbd"/>
<rect x="73" y="573" width="1" height="2" fill="#bdbdbd"/>
<rect x="78" y="341" width="1" height="2" fill="#bdbdbd"/>
<rect x="78" y="352" width="1" height="2" fill="#bdbdbd"/>
<rect x="78" y="573" width="1" height="2" fill="#bdbdbd"/>
<rect x="83" y="341" width="1" height="2" fill="#bdbdbd"/>
<rect x="83" y="352" width="1" height="2" fill="#bdbdbd"/>
<rect x="83" y="573" width="1" height="2" fill="#bdbdbd"/>
<rect x="88" y="341" width="1" height="2" fill="#bdbdbd"/>
<rect x="88" y="352" width="1" height="2" fill="#bdbdbd"/>
<rect x="88" y="573" width="1" height="2" fill="#bdbdbd"/>
<rect x="93" y="341" width="1" height="2" fill="#bdbdbd"/>
<rect x="93" y="352" width="1" height="2" fill="#bdbdbd"/>
<rect x="93" y="573" width="1" height="2" fill="#bdbdbd"/>
<rect x="98" y="341" width="1" height="2" fill="#bdbdbd"/>
<rect x="98" y="352" width="1" height="2" fill="#bdbdbd"/>
<rect x="98" y="573" width="1" height="2" fill="#bdbdbd"/>
<rect x="103" y="341" width="1" height="2" fill="#bdbdbd"/>
<rect x="103" y="352" width="1" height="2" fill="#bdbdbd"/>
<rect x="103" y="573" width="1" height="2" fill="#bdbdbd"/>
<rect x="108" y="341" width="1" height="2" fill="#bdbdbd"/>
<rect x="108" y="352" width="1" height="2" fill="#bdbdbd"/>
<rect x="108" y="573" width="1" height="2" fill="#bdbdbd"/>
<rect x="113" y="341" width="1" height="2" fill="#bdbdbd"/>
<rect x="113" y="352" width="1" height="2" fill="#bdbdbd"/>
<rect x="113" y="573" width="1" height="2" fill="#bdbdbd"/>
<rect x="118" y="341" width="1" height="2" fill="#bdbdbd"/>
<rect x="118" y="352" width="1" height="2" fill="#bdbdbd"/>
<rect x="118" y="573" width="1" height="2" fill="#bdbdbd"/>
<rect x="123" y="341" width="1" height="2" fill="#bdbdbd"/>
<rect x="123" y="352" width="1" height="2" fill="#bdbdbd"/>
<rect x="123" y="573" width="1" height="2" fill="#bdbdbd"/>
<rect x="128" y="341" width="1" height="2" fill="#bdbdbd"/>
<rect x="128" y="352" width="1" height="2" fill="#bdbdbd"/>
<rect x="128" y="573" width="1" height="2" fill="#bdbdbd"/>
<rect x="133" y="341" width="1" height="2" fill="#bdbdbd"/>
<rect x="133" y="352" width="1" height="2" fill="#bdbdbd"/>
<rect x="133" y="573" width="1" height="2" fill="#bdbdbd"/>
<rect x="138" y="341" width="1" height="2" fill="#bdbdbd"/>
<rect x="138" y="352" width="1" height="2" fill="#bdbdbd"/>
<rect x="138" y="573" width="1" height="2" fill="#bdbdbd"/>
<rect x="143" y="341" width="1" height="2" fill="#bdbdbd"/>
<rect x="143" y="352" width="1" height="2" fill="#bdbdbd"/>
<rect x="143" y="573" width="1" height="2" fill="#bdbdbd"/>
<rect x="148" y="341" width="1" height="2" fill="#bdbdbd"/>
<rect x="148" y="352" width="1" height="2" fill="#bdbdbd"/>
<rect x="148" y="573" width="1" height="2" fill="#bdbdbd"/>
<rect x="153" y="341" width="1" height="2" fill="#bdbdbd"/>
<rect x="153" y="352" width="1" height="2" fill="#bdbdbd"/>
<rect x="153" y="573" width="1" height="2" fill="#bdbdbd"/>
<rect x="158" y="341" width="1" height="2" fill="#bdbdbd"/>
<rect x="158" y="352" width="1" height="2" fill="#bdbdbd"/>
<rect x="158" y="573" width="1" height="2" fill="#bdbdbd"/>
<rect x="163" y="341" width="1" height="2" fill="#bdbdbd"/>
<rect x="163" y="352" width="1" height="2" fill="#bdbdbd"/>
<rect x="163" y="573" width="1" height="2" fill="#bdbdbd"/>
<rect x="168" y="341" width="1" height="2" fill="#bdbdbd"/>
<rect x="168" y="352" width="1" height="2" fill="#bdbdbd"/>
<rect x="168" y="573" width="1" height="2" fill="#bdbdbd"/>
<rect x="173" y="341" width="1" height="2" fill="#bdbdbd"/>
<rect x="173" y="352" width="1" height="2" fill="#bdbdbd"/>
<rect x="173" y="573" width="1" height="2" fill="#bdbdbd"/>
<rect x="178" y="341" width="1" height="2" fill="#bdbdbd"/>
<rect x="178" y="352" width="1" height="2" fill="#bdbdbd"/>
<rect x="178" y="573" width="1" height="2" fill="#bdbdbd"/>
<rect x="183" y="341" width="1" height="2" fill="#bdbdbd"/>
<rect x="183" y="352" width="1" height="2" fill="#bdbdbd"/>
<rect x="183" y="573" width="1" height="2" fill="#bdbdbd"/>
<rect x="188" y="341" width="1" height="2" fill="#bdbdbd"/>
<rect x="188" y="352" width="1" height="2" fill="#bdbdbd"/>
<rect x="188" y="573" width="1" height="2" fill="#bdbdbd"/>
<rect x="193" y="341" width="1" height="2" fill="#bdbdbd"/>
<rect x="193" y="352" width="1" height="2" fill="#bdbdbd"/>
<rect x="193" y="573" width="1" height="2" fill="#bdbdbd"/>
<rect x="198" y="341" width="1" height="2" fill="#bdbdbd"/>
<rect x="198" y="352" width="1" height="2" fill="#bdbdbd"/>
<rect x="198" y="573" width="1" height="2" fill="#bdbdbd"/>
<rect x="203" y="341" width="1" height="2" fill="#bdbdbd"/>
<rect x="203" y="352" width="1" height="2" fill="#bdbdbd"/>
<rect x="203" y="573" width="1" height="2" fill="#bdbdbd"/>
<rect x="208" y="341" width="1" height="2" fill="#bdbdbd"/>
<rect x="208" y="352" width="1" height="2" fill="#bdbdbd"/>
<rect x="208" y="573" width="1" height="2" fill="#bdbdbd"/>
<rect x="213" y="341" width="1" height="2" fill="#bdbdbd"/>
<rect x="213" y="352" width="1" height="2" fill="#bdbdbd"/>
<rect x="213" y="573" width="1" height="2" fill="#bdbdbd"/>
<rect x="218" y="341" width="1" height="2" fill="#bdbdbd"/>
<rect x="218" y="352" width="1" height="2" fill="#bdbdbd"/>
<rect x="218" y="573" width="1" height="2" fill="#bdbdbd"/>
<rect x="223" y="341" width="1" height="2" fill="#bdbdbd"/>
<rect x="223" y="352" width="1" height="2" fill="#bdbdbd"/>
<rect x="223" y="573" width="1" height="2" fill="#bdbdbd"/>
<rect x="228" y="341" width="1" height="2" fill="#bdbdbd"/>
<rect x="228" y="352" width="1" height="2" fill="#bdbdbd"/>
<rect x="228" y="573" width="1" height="2" fill="#bdbdbd"/>
<rect x="233" y="341" width="1" height="2" fill="#bdbdbd"/>
<rect x="233" y="352" width="1" height="2" fill="#bdbdbd"/>
<rect x="233" y="573" width="1" height="2" fill="#bdbdbd"/>
<rect x="238" y="341" width="1" height="2" fill="#bdbdbd"/>
<rect x="238" y="352" width="1" height="2" fill="#bdbdbd"/>
<rect x="238" y="573" width="1" height="2" fill="#bdbdbd"/>
<rect x="243" y="341" width="1" height="2" fill="#bdbdbd"/>
<rect x="243" y="352" width="1" height="2" fill="#bdbdbd"/>
<rect x="243" y="573" width="1" height="2" fill="#bdbdbd"/>
<rect x="248" y="341" width="1" height="2" fill="#bdbdbd"/>
<rect x="248" y="352" width="1" height="2" fill="#bdbdbd"/>
<rect x="248" y="573" width="1" height="2" fill="#bdbdbd"/>
<rect x="253" y="341" width="1" height="2" fill="#bdbdbd"/>
<rect x="253" y="352" width="1" height="2" fill="#bdbdbd"/>
<rect x="253" y="573" width="1" height="2" fill="#bdbdbd"/>
<rect x="258" y="341" width="1" height="2" fill="#bdbdbd"/>
<rect x="258" y="352" width="1" height="2" fill="#bdbdbd"/>
<rect x="258" y="573" width="1" height="2" fill="#bdbdbd"/>
<rect x="263" y="341" width="1" height="2" fill="#bdbdbd"/>
<rect x="263" y="352" width="1" height="2" fill="#bdbdbd"/>
<rect x="263" y="573" width="1" height="2" fill="#bdbdbd"/>
<rect x="268" y="341" width="1" height="2" fill="#bdbdbd"/>
<rect x="268" y="352" width="1" height="2" fill="#bdbdbd"/>
<rect x="268" y="573" width="1" height="2" fill="#bdbdbd"/>
<rect x="273" y="341" width="1" height="2" fill="#bdbdbd"/>
<rect x="273" y="352" width="1" height="2" fill="#bdbdbd"/>
<rect x="273" y="573" width="1" height="2" fill="#bdbdbd"/>
<rect x="278" y="341" width="1" height="2" fill="#bdbdbd"/>
<rect x="278" y="352" width="1" height="2" fill="#bdbdbd"/>
<rect x="278" y="573" width="1" height="2" fill="#bdbdbd"/>
<rect x="283" y="341" width="1" height="2" fill="#bdbdbd"/>
<rect x="283" y="352" width="1" height="2" fill="#bdbdbd"/>
<rect x="283" y="573" width="1" height="2" fill="#bdbdbd"/>
<rect x="288" y="341" width="1" height="2" fill="#bdbdbd"/>
<rect x="288" y="352" width="1" height="2" fill="#bdbdbd"/>
<rect x="288" y="573" width="1" height="2" fill="#bdbdbd"/>
<rect x="293" y="341" width="1" height="2" fill="#bdbdbd"/>
<rect x="293" y="352" width="1" height="2" fill="#bdbdbd"/>
<rect x="293" y="573" width="1" height="2" fill="#bdbdbd"/>
<rect x="298" y="341" width="1" height="2" fill="#bdbdbd"/>
<rect x="298" y="352" width="1" height="2" fill="#bdbdbd"/>
<rect x="298" y="573" width="1" height="2" fill="#bdbdbd"/>
<rect x="303" y="341" width="1" height="2" fill="#bdbdbd"/>
<rect x="303" y="352" width="1" height="2" fill="#bdbdbd"/>
<rect x="303" y="573" width="1" height="2" fill="#bdbdbd"/>
<rect x="308" y="341" width="1" height="2" fill="#bdbdbd"/>
<rect x="308" y="352" width="1" height="2" fill="#bdbdbd"/>
<rect x="308" y="573" width="1" height="2" fill="#bdbdbd"/>
<rect x="313" y="341" width="1" height="2" fill="#bdbdbd"/>
<rect x="313" y="352" width="1" height="2" fill="#bdbdbd"/>
<rect x="313" y="573" width="1" height="2" fill="#bdbdbd"/>
<rect x="318" y="341" width="1" height="2" fill="#bdbdbd"/>
<rect x="318" y="352" width="1" height="2" fill="#bdbdbd"/>
<rect x="318" y="573" width="1" height="2" fill="#bdbdbd"/>
<rect x="323" y="341" width="1" height="2" fill="#bdbdbd"/>
<rect x="323" y="352" width="1" height="2" fill="#bdbdbd"/>
<rect x="323" y="573" width="1" height="2" fill="#bdbdbd"/>
<rect x="328" y="341" width="1" height="2" fill="#bdbdbd"/>
<rect x="328" y="352" width="1" height="2" fill="#bdbdbd"/>
<rect x="328" y="573" width="1" height="2" fill="#bdbdbd"/>
<rect x="333" y="341" width="1" height="2" fill="#bdbdbd"/>
<rect x="333" y="352" width="1" height="2" fill="#bdbdbd"/>
<rect x="333" y="573" width="1" height="2" fill="#bdbdbd"/>
<rect x="338" y="341" width="1" height="2" fill="#bdbdbd"/>
<rect x="338" y="352" width="1" height="2" fill="#bdbdbd"/>
<rect x="338" y="573" width="1" height="2" fill="#bdbdbd"/>
<rect x="343" y="341" width="1" height="2" fill="#bdbdbd"/>
<rect x="343" y="352" width="1" height="2" fill="#bdbdbd"/>
<rect x="343" y="573" width="1" height="2" fill="#bdbdbd"/>
<rect x="348" y="341" width="1" height="2" fill="#bdbdbd"/>
<rect x="348" y="352" width="1" height="2" fill="#bdbdbd"/>
<rect x="348" y="573" width="1" height="2" fill="#bdbdbd"/>
<rect x="353" y="341" width="1" height="2" fill="#bdbdbd"/>
<rect x="353" y="352" width="1" height="2" fill="#bdbdbd"/>
<rect x="353" y="573" width="1" height="2" fill="#bdbdbd"/>
<rect x="358" y="341" width="1" height="2" fill="#bdbdbd"/>
<rect x="358" y="352" width="1" height="2" fill="#bdbdbd"/>
<rect x="358" y="573" width="1" height="2" fill="#bdbdbd"/>
<rect x="363" y="341" width="1" height="2" fill="#bdbdbd"/>
<rect x="363" y="352" width="1" height="2" fill="#bdbdbd"/>
<rect x="363" y="573" width="1" height="2" fill="#bdbdbd"/>
<rect x="368" y="341" width="1" height="2" fill="#bdbdbd"/>
<rect x="368" y="352" width="1" height="2" fill="#bdbdbd"/>
<rect x="368" y="573" width="1" height="2" fill="#bdbdbd"/>
<rect x="373" y="341" width="1" height="2" fill="#bdbdbd"/>
<rect x="373" y="352" width="1" height="2" fill="#bdbdbd"/>
<rect x="373" y="573" width="1" height="2" fill="#bdbdbd"/>
<rect x="378" y="341" width="1" height="2" fill="#bdbdbd"/>
<rect x="378" y="352" width="1" height="2" fill="#bdbdbd"/>
<rect x="378" y="573" width="1" height="2" fill="#bdbdbd"/>
<rect x="383" y="341" width="1" height="2" fill="#bdbdbd"/>
<rect x="383" y="352" width="1" height="2" fill="#bdbdbd"/>
<rect x="383" y="573" width="1" height="2" fill="#bdbdbd"/>
<rect x="388" y="341" width="1" height="2" fill="#bdbdbd"/>
<rect x="388" y="352" width="1" height="2" fill="#bdbdbd"/>
<rect x="388" y="573" width="1" height="2" fill="#bdbdbd"/>
<rect x="393" y="341" width="1" height="2" fill="#bdbdbd"/>
<rect x="393" y="352" width="1" height="2" fill="#bdbdbd"/>
<rect x="393" y="573" width="1" height="2" fill="#bdbdbd"/>
<rect x="398" y="341" width="1" height="2" fill="#bdbdbd"/>
<rect x="398" y="352" width="1" height="2" fill="#bdbdbd"/>
<rect x="398" y="573" width="1" height="2" fill="#bdbdbd"/>
<rect x="403" y="341" width="1" height="2" fill="#bdbdbd"/>
<rect x="403" y="352" width="1" height="2" fill="#bdbdbd"/>
<rect x="403" y="573" width="1" height="2" fill="#bdbdbd"/>
<rect x="408" y="341" width="1" height="2" fill="#bdbdbd"/>
<rect x="408" y="352" width="1" height="2" fill="#bdbdbd"/>
<rect x="408" y="573" width="1" height="2" fill="#bdbdbd"/>
<rect x="413" y="341" width="1" height="2" fill="#bdbdbd"/>
<rect x="413" y="352" width="1" height="2" fill="#bdbdbd"/>
<rect x="413" y="573" width="1" height="2" fill="#bdbdbd"/>
<rect x="418" y="341" width="1" height="2" fill="#bdbdbd"/>
<rect x="418" y="352" width="1" height="2" fill="#bdbdbd"/>
<rect x="418" y="573" width="1" height="2" fill="#bdbdbd"/>
<rect x="423" y="341" width="1" height="2" fill="#bdbdbd"/>
<rect x="423" y="352" width="1" height="2" fill="#bdbdbd"/>
<rect x="423" y="573" width="1" height="2" fill="#bdbdbd"/>
<rect x="428" y="341" width="1" height="2" fill="#bdbdbd"/>
<rect x="428" y="352" width="1" height="2" fill="#bdbdbd"/>
<rect x="428" y="573" width="1" height="2" fill="#bdbdbd"/>
<rect x="433" y="341" width="1" height="2" fill="#bdbdbd"/>
<rect x="433" y="352" width="1" height="2" fill="#bdbdbd"/>
<rect x="433" y="573" width="1" height="2" fill="#bdbdbd"/>
<rect x="438" y="341" width="1" height="2" fill="#bdbdbd"/>
<rect x="438" y="352" width="1" height="2" fill="#bdbdbd"/>
<rect x="438" y="573" width="1" height="2" fill="#bdbdbd"/>
<rect x="443" y="341" width="1" height="2" fill="#bdbdbd"/>
<rect x="443" y="352" width="1" height="2" fill="#bdbdbd"/>
<rect x="443" y="573" width="1" height="2" fill="#bdbdbd"/>
<rect x="448" y="341" width="1" height="2" fill="#bdbdbd"/>
<rect x="448" y="352" width="1" height="2" fill="#bdbdbd"/>
<rect x="448" y="573" width="1" height="2" fill="#bdbdbd"/>
<rect x="453" y="341" width="1" height="2" fill="#bdbdbd"/>
<rect x="453" y="352" width="1" height="2" fill="#bdbdbd"/>
<rect x="453" y="573" width="1" height="2" fill="#bdbdbd"/>
<rect x="458" y="341" width="1" height="2" fill="#bdbdbd"/>
<rect x="458" y="352" width="1" height="2" fill="#bdbdbd"/>
<rect x="458" y="573" width="1" height="2" fill="#bdbdbd"/>
<rect x="463" y="341" width="1" height="2" fill="#bdbdbd"/>
<rect x="463" y="352" width="1" height="2" fill="#bdbdbd"/>
<rect x="463" y="573" width="1" height="2" fill="#bdbdbd"/>
<rect x="468" y="341" width="1" height="2" fill="#bdbdbd"/>
<rect x="468" y="352" width="1" height="2" fill="#bdbdbd"/>
<rect x="468" y="573" width="1" height="2" fill="#bdbdbd"/>
<rect x="473" y="341" width="1" height="2" fill="#bdbdbd"/>
<rect x="473" y="352" width="1" height="2" fill="#bdbdbd"/>
<rect x="473" y="573" width="1" height="2" fill="#bdbdbd"/>
<rect x="478" y="341" width="1" height="2" fill="#bdbdbd"/>
<rect x="478" y="352" width="1" height="2" fill="#bdbdbd"/>
<rect x="478" y="573" width="1" height="2" fill="#bdbdbd"/>
<rect x="483" y="341" width="1" height="2" fill="#bdbdbd"/>
<rect x="483" y="352" width="1" height="2" fill="#bdbdbd"/>
<rect x="483" y="573" width="1" height="2" fill="#bdbdbd"/>
<rect x="488" y="341" width="1" height="2" fill="#bdbdbd"/>
<rect x="488" y="352" width="1" height="2" fill="#bdbdbd"/>
<rect x="488" y="573" width="1" height="2" fill="#bdbdbd"/>
<rect x="493" y="341" width="1" height="2" fill="#bdbdbd"/>
<rect x="493" y="352" width="1" height="2" fill="#bdbdbd"/>
<rect x="493" y="573" width="1" height="2" fill="#bdbdbd"/>
<rect x="498" y="341" width="1" height="2" fill="#bdbdbd"/>
<rect x="498" y="352" width="1" height="2" fill="#bdbdbd"/>
<rect x="498" y="573" width="1" height="2" fill="#bdbdbd"/>
<rect x="503" y="341" width="1" height="2" fill="#bdbdbd"/>
<rect x="503" y="352" width="1" height="2" fill="#bdbdbd"/>
<rect x="503" y="573" width="1" height="2" fill="#bdbdbd"/>
<rect x="508" y="341" width="1" height="2" fill="#bdbdbd"/>
<rect x="508" y="352" width="1" height="2" fill="#bdbdbd"/>
<rect x="508" y="573" width="1" height="2" fill="#bdbdbd"/>
<rect x="513" y="341" width="1" height="2" fill="#bdbdbd"/>
<rect x="513" y="352" width="1" height="2" fill="#bdbdbd"/>
<rect x="513" y="573" width="1" height="2" fill="#bdbdbd"/>
<rect x="518" y="341" width="1" height="2" fill="#bdbdbd"/>
<rect x="518" y="352" width="1" height="2" fill="#bdbdbd"/>
<rect x="518" y="573" width="1" height="2" fill="#bdbdbd"/>
<rect x="523" y="341" width="1" height="2" fill="#bdbdbd"/>
<rect x="523" y="352" width="1" height="2" fill="#bdbdbd"/>
<rect x="523" y="573" width="1" height="2" fill="#bdbdbd"/>
<rect x="528" y="341" width="1" height="2" fill="#bdbdbd"/>
<rect x="528" y="352" width="1" height="2" fill="#bdbdbd"/>
<rect x="528" y="573" width="1" height="2" fill="#bdbdbd"/>
<rect x="533" y="341" width="1" height="2" fill="#bdbdbd"/>
<rect x="533" y="352" width="1" height="2" fill="#bdbdbd"/>
<rect x="533" y="573" width="1" height="2" fill="#bdbdbd"/>
<rect x="538" y="341" width="1" height="2" fill="#bdbdbd"/>
<rect x="538" y="352" width="1" height="2" fill="#bdbdbd"/>
<rect x="538" y="573" width="1" height="2" fill="#bdbdbd"/>
<rect x="543" y="341" width="1" height="2" fill="#bdbdbd"/>
<rect x="543" y="352" width="1" height="2" fill="#bdbdbd"/>
<rect x="543" y="573" width="1" height="2" fill="#bdbdbd"/>
<rect x="548" y="341" width="1" height="2" fill="#bdbdbd"/>
<rect x="548" y="352" width="1" height="2" fill="#bdbdbd"/>
<rect x="548" y="573" width="1" height="2" fill="#bdbdbd"/>
<rect x="553" y="341" width="1" height="2" fill="#bdbdbd"/>
<rect x="553" y="352" width="1" height="2" fill="#bdbdbd"/>
<rect x="553" y="573" width="1" height="2" fill="#bdbdbd"/>
<rect x="558" y="341" width="1" height="2" fill="#bdbdbd"/>
<rect x="558" y="352" width="1" height="2" fill="#bdbdbd"/>
<rect x="558" y="573" width="1" height="2" fill="#bdbdbd"/>
<rect x="563" y="341" width="1" height="2" fill="#bdbdbd"/>
<rect x="563" y="352" width="1" height="2" fill="#bdbdbd"/>
<rect x="563" y="573" width="1" height="2" fill="#bdbdbd"/>
<rect x="568" y="341" width="1" height="2" fill="#bdbdbd"/>
<rect x="568" y="352" width="1" height="2" fill="#bdbdbd"/>
<rect x="568" y="573" width="1" height="2" fill="#bdbdbd"/>
<rect x="573" y="341" width="1" height="2" fill="#bdbdbd"/>
<rect x="573" y="352" width="1" height="2" fill="#bdbdbd"/>
<rect x="573" y="573" width="1" height="2" fill="#bdbdbd"/>
<rect x="578" y="341" width="1" height="2" fill="#bdbdbd"/>
<rect x="578" y="352" width="1" height="2" fill="#bdbdbd"/>
<rect x="578" y="573" width="1" height="2" fill="#bdbdbd"/>
<rect x="583" y="341" width="1" height="2" fill="#bdbdbd"/>
<rect x="583" y="352" width="1" height="2" fill="#bdbdbd"/>
<rect x="583" y="573" width="1" height="2" fill="#bdbdbd"/>
<rect x="588" y="341" width="1" height="2" fill="#bdbdbd"/>
<rect x="588" y="352" width="1" height="2" fill="#bdbdbd"/>
<rect x="588" y="573" width="1" height="2" fill="#bdbdbd"/>
<rect x="593" y="341" width="1" height="2" fill="#bdbdbd"/>
<rect x="593" y="352" width="1" height="2" fill="#bdbdbd"/>
<rect x="593" y="573" width="1" height="2" fill="#bdbdbd"/>
<rect x="598" y="341" width="1" height="2" fill="#bdbdbd"/>
<rect x="598" y="352" width="1" height="2" fill="#bdbdbd"/>
<rect x="598" y="573" width="1" height="2" fill="#bdbdbd"/>
<rect x="603" y="341" width="1" height="2" fill="#bdbdbd"/>
<rect x="603" y="352" width="1" height="2" fill="#bdbdbd"/>
<rect x="603" y="573" width="1" height="2" fill="#bdbdbd"/>
<rect x="608" y="341" width="1" height="2" fill="#bdbdbd"/>
<rect x="608" y="352" width="1" height="2" fill="#bdbdbd"/>
<rect x="608" y="573" width="1" height="2" fill="#bdbdbd"/>
<rect x="613" y="341" width="1" height="2" fill="#bdbdbd"/>
<rect x="613" y="352" width="1" height="2" fill="#bdbdbd"/>
<rect x="613" y="573" width="1" height="2" fill="#bdbdbd"/>
<rect x="618" y="341" width="1" height="2" fill="#bdbdbd"/>
<rect x="618" y="352" width="1" height="2" fill="#bdbdbd"/>
<rect x="618" y="573" width="1" height="2" fill="#bdbdbd"/>
<rect x="623" y="341" width="1" height="2" fill="#bdbdbd"/>
<rect x="623" y="352" width="1" height="2" fill="#bdbdbd"/>
<rect x="623" y="573" width="1" height="2" fill="#bdbdbd"/>
<rect x="628" y="341" width="1" height="2" fill="#bdbdbd"/>
<rect x="628" y="352" width="1" height="2" fill="#bdbdbd"/>
<rect x="628" y="573" width="1" height="2" fill="#bdbdbd"/>
<rect x="633" y="341" width="1" height="2" fill="#bdbdbd"/>
<rect x="633" y="352" width="1" height="2" fill="#bdbdbd"/>
<rect x="633" y="573" width="1" height="2" fill="#bdbdbd"/>
<rect x="638" y="341" width="1" height="2" fill="#bdbdbd"/>
<rect x="638" y="352" width="1" height="2" fill="#bdbdbd"/>
<rect x="638" y="573" width="1" height="2" fill="#bdbdbd"/>
<rect x="643" y="341" width="1" height="2" fill="#bdbdbd"/>
<rect x="643" y="352" width="1" height="2" fill="#bdbdbd"/>
<rect x="643" y="573" width="1" height="2" fill="#bdbdbd"/>
<rect x="648" y="341" width="1" height="2" fill="#bdbdbd"/>
<rect x="648" y="352" width="1" height="2" fill="#bdbdbd"/>
<rect x="648" y="573" width="1" height="2" fill="#bdbdbd"/>
<rect x="653" y="341" width="1" height="2" fill="#bdbdbd"/>
<rect x="653" y="352" width="1" height="2" fill="#bdbdbd"/>
<rect x="653" y="573" width="1" height="2" fill="#bdbdbd"/>
<rect x="658" y="341" width="1" height="2" fill="#bdbdbd"/>
<rect x="658" y="352" width="1" height="2" fill="#bdbdbd"/>
<rect x="658" y="573" width="1" height="2" fill="#bdbdbd"/>
<rect x="663" y="341" width="1" height="2" fill="#bdbdbd"/>
<rect x="663" y="352" width="1" height="2" fill="#bdbdbd"/>
<rect x="663" y="573" width="1" height="2" fill="#bdbdbd"/>
<rect x="668" y="341" width="1" height="2" fill="#bdbdbd"/>
<rect x="668" y="352" width="1" height="2" fill="#bdbdbd"/>
<rect x="668" y="573" width="1" height="2" fill="#bdbdbd"/>
<rect x="673" y="341" width="1" height="2" fill="#bdbdbd"/>
<rect x="673" y="352" width="1" height="2" fill="#bdbdbd"/>
<rect x="673" y="573" width="1" height="2" fill="#bdbdbd"/>
<rect x="678" y="341" width="1" height="2" fill="#bdbdbd"/>
<rect x="678" y="352" width="1" height="2" fill="#bdbdbd"/>
<rect x="678" y="573" width="1" height="2" fill="#bdbdbd"/>
<rect x="683" y="341" width="1" height="2" fill="#bdbdbd"/>
<rect x="683" y="352" width="1" height="2" fill="#bdbdbd"/>
<rect x="683" y="573" width="1" height="2" fill="#bdbdbd"/>
<rect x="688" y="341" width="1" height="2" fill="#bdbdbd"/>
<rect x="688" y="352" width="1" height="2" fill="#bdbdbd"/>
<rect x="688" y="573" width="1" height="2" fill="#bdbdbd"/>
<rect x="693" y="341" width="1" height="2" fill="#bdbdbd"/>
<rect x="693" y="352" width="1" height="2" fill="#bdbdbd"/>
<rect x="693" y="573" width="1" height="2" fill="#bdbdbd"/>
<rect x="698" y="341" width="1" height="2" fill="#bdbdbd"/>
<rect x="698" y="352" width="1" height="2" fill="#bdbdbd"/>
<rect x="698" y="573" width="1" height="2" fill="#bdbdbd"/>
<rect x="703" y="341" width="1" height="2" fill="#bdbdbd"/>
<rect x="703" y="352" width="1" height="2" fill="#bdbdbd"/>
<rect x="703" y="573" width="1" height="2" fill="#bdbdbd"/>
<rect x="708" y="341" width="1" height="2" fill="#bdbdbd"/>
<rect x="708" y="352" width="1" height="2" fill="#bdbdbd"/>
<rect x="708" y="573" width="1" height="2" fill="#bdbdbd"/>
<rect x="713" y="341" width="1" height="2" fill="#bdbdbd"/>
<rect x="713" y="352" width="1" height="2" fill="#bdbdbd"/>
<rect x="713" y="573" width="1" height="2" fill="#bdbdbd"/>
<rect x="718" y="341" width="1" height="2" fill="#bdbdbd"/>
<rect x="718" y="352" width="1" height="2" fill="#bdbdbd"/>
<rect x="718" y="573" width="1" height="2" fill="#bdbdbd"/>
<rect x="723" y="341" width="1" height="2" fill="#bdbdbd"/>
<rect x="723" y="352" width="1" height="2" fill="#bdbdbd"/>
<rect x="723" y="573" width="1" height="2" fill="#bdbdbd"/>
<rect x="728" y="341" width="1" height="2" fill="#bdbdbd"/>
<rect x="728" y="352" width="1" height="2" fill="#bdbdbd"/>
<rect x="728" y="573" width="1" height="2" fill="#bdbdbd"/>
<rect x="736" y="328" width="1" height="1"/>
<rect x="736" y="324" width="1" height="1"/>
<rect x="736" y="319" width="2" height="1"/>
<rect x="736" y="314" width="1" height="1"/>
<rect x="736" y="310" width="1" height="1"/>
<rect x="736" y="305" width="1" height="1"/>
<rect x="736" y="300" width="1" height="1"/>
<rect x="736" y="296" width="2" height="1"/>
<rect x="736" y="291" width="1" height="1"/>
<rect x="736" y="286" width="1" height="1"/>
<rect x="736" y="282" width="1" height="1"/>
<rect x="736" y="277" width="1" height="1"/>
<rect x="736" y="273" width="2" height="1"/>
<rect x="736" y="268" width="1" height="1"/>
<rect x="736" y="264" width="1" height="1"/>
<rect x="736" y="259" width="1" height="1"/>
<rect x="736" y="254" width="1" height="1"/>
<rect x="736" y="250" width="2" height="1"/>
<rect x="736" y="245" width="1" height="1"/>
<rect x="736" y="241" width="1" height="1"/>
<rect x="736" y="236" width="1" height="1"/>
<rect x="736" y="232" width="1" height="1"/>
<rect x="736" y="227" width="2" height="1"/>
<rect x="736" y="223" width="1" height="1"/>
<rect x="736" y="218" width="1" height="1"/>
<rect x="736" y="214" width="1" height="1"/>
<rect x="736" y="209" width="1" height="1"/>
<rect x="736" y="205" width="2" height="1"/>
<rect x="736" y="201" width="1" height="1"/>
<rect x="736" y="196" width="1" height="1"/>
<rect x="736" y="192" width="1" height="1"/>
<rect x="736" y="187" width="1" height="1"/>
<rect x="736" y="183" width="2" height="1"/>
<rect x="736" y="179" width="1" height="1"/>
<rect x="736" y="174" width="1" height="1"/>
<rect x="736" y="170" width="1" height="1"/>
<rect x="736" y="165" width="1" height="1"/>
<rect x="736" y="161" width="2" height="1"/>
<rect x="736" y="157" width="1" height="1"/>
<rect x="736" y="152" width="1" height="1"/>
<rect x="736" y="148" width="1" height="1"/>
<rect x="736" y="144" width="1" height="1"/>
<rect x="736" y="139" width="2" height="1"/>
<rect x="736" y="135" width="1" height="1"/>
<rect x="736" y="131" width="1" height="1"/>
<rect x="736" y="126" width="1" height="1"/>
<rect x="736" y="122" width="1" height="1"/>
<rect x="736" y="118" width="2" height="1"/>
<rect x="736" y="114" width="1" height="1"/>
<rect x="736" y="109" width="1" height="1"/>
<rect x="736" y="105" width="1" height="1"/>
<rect x="736" y="101" width="1" height="1"/>
<rect x="736" y="97" width="2" height="1"/>
<rect x="736" y="92" width="1" height="1"/>
<rect x="736" y="88" width="1" height="1"/>
<rect x="736" y="84" width="1" height="1"/>
<rect x="736" y="80" width="1" height="1"/>
<rect x="736" y="75" width="2" height="1"/>
<rect x="736" y="71" width="1" height="1"/>
<rect x="736" y="67" width="1" height="1"/>
<rect x="736" y="63" width="1" height="1"/>
<rect x="736" y="59" width="1" height="1"/>
<rect x="736" y="55" width="2" height="1"/>
<rect x="736" y="50" width="1" height="1"/>
<rect x="736" y="46" width="1" height="1"/>
<rect x="736" y="42" width="1" height="1"/>
<rect x="736" y="38" width="1" height="1"/>
<rect x="736" y="34" width="2" height="1"/>
<rect x="736" y="357" width="3" height="1"/>
<rect x="736" y="373" width="3" height="1"/>
<rect x="736" y="389" width="3" height="1"/>
<rect x="736" y="405" width="3" height="1"/>
<rect x="736" y="422" width="3" height="1"/>
<rect x="736" y="438" width="3" height="1"/>
<rect x="736" y="454" width="3" height="1"/>
<rect x="736" y="565" width="2" height="1"/>
<rect x="736" y="560" width="2" height="1"/>
<rect x="736" y="556" width="2" height="1"/>
<rect x="736" y="551" width="2" height="1"/>
<rect x="736" y="546" width="3" height="1"/>
<rect x="736" y="541" width="2" height="1"/>
<rect x="736" y="537" width="2" height="1"/>
<rect x="736" y="532" width="2" height="1"/>
<rect x="736" y="527" width="2" height="1"/>
<rect x="736" y="522" width="2" height="1"/>
<rect x="736" y="518" width="3" height="1"/>
<rect x="736" y="513" width="2" height="1"/>
<rect x="736" y="508" width="2" height="1"/>
<rect x="736" y="503" width="2" height="1"/>
<rect x="736" y="499" width="2" height="1"/>
<rect x="736" y="494" width="2" height="1"/>
<rect x="736" y="489" width="3" height="1"/>
<rect x="736" y="485" width="2" height="1"/>
<rect x="736" y="480" width="2" height="1"/>
<rect x="736" y="475" width="2" height="1"/>
<rect x="736" y="470" width="2" height="1"/>
</g>
<g style="font-family:'Liberation Sans',Arial,sans-serif;font-size:10px" fill="#000">
<text x="756" y="37.5" text-anchor="end">110</text>
<text x="756" y="58.2" text-anchor="end">109</text>
<text x="756" y="79.0" text-anchor="end">108</text>
<text x="756" y="100.1" text-anchor="end">107</text>
<text x="756" y="121.4" text-anchor="end">106</text>
<text x="756" y="142.9" text-anchor="end">105</text>
<text x="756" y="164.6" text-anchor="end">104</text>
<text x="756" y="186.5" text-anchor="end">103</text>
<text x="756" y="208.6" text-anchor="end">102</text>
<text x="756" y="231.0" text-anchor="end">101</text>
<text x="756" y="253.5" text-anchor="end">100</text>
<text x="756" y="276.3" text-anchor="end">99</text>
<text x="756" y="299.3" text-anchor="end">98</text>
<text x="756" y="322.6" text-anchor="end">97</text>
<text x="759" y="361.0" text-anchor="end">300</text>
<text x="759" y="377.0" text-anchor="end">200</text>
<text x="759" y="393.0" text-anchor="end">100</text>
<text x="759" y="426.0" text-anchor="end">-100</text>
<text x="759" y="442.0" text-anchor="end">-200</text>
<text x="759" y="458.0" text-anchor="end">-300</text>
<text x="739" y="493.0">80</text>
<text x="739" y="522.0">50</text>
<text x="739" y="550.0">20</text>
</g>
<g style="font-family:'Liberation Sans',Arial,sans-serif;font-size:10px" fill="#000" text-anchor="middle">
<text x="23.5" y="350.8">27</text>
<text x="48.5" y="350.8" style="font-weight:bold;font-size:11px">Feb</text>
<text x="73.5" y="350.8">10</text>
<text x="98.5" y="350.8">17</text>
<text x="123.5" y="350.8">24</text>
<text x="148.5" y="350.8" style="font-weight:bold;font-size:11px">Mar</text>
<text x="173.5" y="350.8">10</text>
<text x="198.5" y="350.8">17</text>
<text x="223.5" y="350.8">24</text>
<text x="253.5" y="350.8" style="font-weight:bold;font-size:11px">Apr</text>
<text x="273.5" y="350.8">7</text>
<text x="298.5" y="350.8">14</text>
<text x="323.5" y="350.8">21</text>
<text x="363.5" y="350.8" style="font-weight:bold;font-size:11px">May</text>
<text x="398.5" y="350.8">12</text>
<text x="423.5" y="350.8">19</text>
<text x="448.5" y="350.8">26</text>
<text x="473.5" y="350.8" style="font-weight:bold;font-size:11px">Jun</text>
<text x="498.5" y="350.8">9</text>
<text x="523.5" y="350.8">16</text>
<text x="548.5" y="350.8">23</text>
<text x="578.5" y="350.8" style="font-weight:bold;font-size:11px">Jul</text>
<text x="598.5" y="350.8">7</text>
<text x="623.5" y="350.8">14</text>
<text x="648.5" y="350.8">21</text>
<text x="673.5" y="350.8">28</text>
<text x="693.5" y="350.8" style="font-weight:bold;font-size:11px">Aug</text>
<text x="723.5" y="350.8">11</text>
<text x="23.5" y="582">27</text>
<text x="48.5" y="582" style="font-weight:bold;font-size:11px">Feb</text>
<text x="73.5" y="582">10</text>
<text x="98.5" y="582">17</text>
<text x="123.5" y="582">24</text>
<text x="148.5" y="582" style="font-weight:bold;font-size:11px">Mar</text>
<text x="173.5" y="582">10</text>
<text x="198.5" y="582">17</text>
<text x="223.5" y="582">24</text>
<text x="253.5" y="582" style="font-weight:bold;font-size:11px">Apr</text>
<text x="273.5" y="582">7</text>
<text x="298.5" y="582">14</text>
<text x="323.5" y="582">21</text>
<text x="363.5" y="582" style="font-weight:bold;font-size:11px">May</text>
<text x="398.5" y="582">12</text>
<text x="423.5" y="582">19</text>
<text x="448.5" y="582">26</text>
<text x="473.5" y="582" style="font-weight:bold;font-size:11px">Jun</text>
<text x="498.5" y="582">9</text>
<text x="523.5" y="582">16</text>
<text x="548.5" y="582">23</text>
<text x="578.5" y="582" style="font-weight:bold;font-size:11px">Jul</text>
<text x="598.5" y="582">7</text>
<text x="623.5" y="582">14</text>
<text x="648.5" y="582">21</text>
<text x="673.5" y="582">28</text>
<text x="693.5" y="582" style="font-weight:bold;font-size:11px">Aug</text>
<text x="723.5" y="582">11</text>
</g>
<polygon points="733.2,179.5 737.4,174.5 772.5,174.5 772.5,184.5 737.4,184.5" fill="#fff" stroke="#006400" stroke-width="1.15"/><text x="738.6" y="183.0" style="font-family:'Liberation Sans',Arial,sans-serif;font-size:9.6px;font-weight:normal;letter-spacing:0.62px" fill="#000">103.13</text>
<polygon points="733.2,290.5 737.4,285.5 766.5,285.5 766.5,295.5 737.4,295.5" fill="#fff" stroke="#d00030" stroke-width="1.15"/><text x="738.3" y="294.0" style="font-family:'Liberation Sans',Arial,sans-serif;font-size:9.6px;font-weight:normal;letter-spacing:0.62px" fill="#000">98.19</text>
<polygon points="733.2,284.5 737.4,279.5 766.5,279.5 766.5,289.5 737.4,289.5" fill="#fff" stroke="#0a0aa0" stroke-width="1.15"/><text x="738.3" y="288.0" style="font-family:'Liberation Sans',Arial,sans-serif;font-size:9.6px;font-weight:normal;letter-spacing:0.62px" fill="#000">98.53</text>
<polygon points="733.2,282.5 737.4,277.5 766.5,277.5 766.5,287.5 737.4,287.5" fill="#fff" stroke="#000" stroke-width="1.15"/><text x="737.9" y="286.5" style="font-family:'Liberation Sans',Arial,sans-serif;font-size:10.4px;font-weight:bold;letter-spacing:0.1px" fill="#000">98.55</text>
<polygon points="733.2,402.5 737.4,397.5 766.5,397.5 766.5,407.5 737.4,407.5" fill="#fff" stroke="#000" stroke-width="1.15"/><text x="738.6" y="406.0" style="font-family:'Liberation Sans',Arial,sans-serif;font-size:9.6px;font-weight:normal;letter-spacing:0.62px" fill="#000">12.11</text>
<polygon points="733.2,526.5 737.4,521.5 766.5,521.5 766.5,531.5 737.4,531.5" fill="#fff" stroke="#f00000" stroke-width="1.15"/><text x="738.3" y="530.0" style="font-family:'Liberation Sans',Arial,sans-serif;font-size:9.6px;font-weight:normal;letter-spacing:0.62px" fill="#000">41.23</text>
<polygon points="733.2,525.5 737.4,520.5 766.5,520.5 766.5,530.5 737.4,530.5" fill="#fff" stroke="#000" stroke-width="1.15"/><text x="738" y="529.0" style="font-family:'Liberation Sans',Arial,sans-serif;font-size:9.6px;font-weight:normal;letter-spacing:0.62px" fill="#000">41.18</text>
<rect x="725" y="281" width="7" height="7" fill="#f0f060"/>
<g shape-rendering="crispEdges"><rect x="726" y="283" width="5" height="2" fill="#000"/><rect x="728" y="282" width="1" height="5" fill="#000"/></g>
<text transform="translate(12.7,14.7) scale(0.885,1)" style="font-family:'Liberation Sans',Arial,sans-serif;font-size:14px;font-weight:bold" fill="#000">$USD</text>
<text x="49.5" y="14" style="font-family:'Liberation Sans',Arial,sans-serif;font-size:10.5px" fill="#000">US Dollar - Cash Settle</text>
<text x="163.6" y="14" style="font-family:'Liberation Sans',Arial,sans-serif;font-size:10px" fill="#000">FOREX</text>
<text x="12.6" y="26.6" style="font-family:'Liberation Sans',Arial,sans-serif;font-size:10.5px" fill="#000">12-Aug-2025 10:11am</text>
<text x="645.6" y="13.8" style="font-family:'Liberation Sans',Arial,sans-serif;font-size:10.4px" fill="#606060">&#169; StockCharts.com</text>
<text x="383" y="26.9" style="font-family:'Liberation Sans',Arial,sans-serif;font-size:11px;font-weight:bold" fill="#000">Open</text>
<text x="414.8" y="26.9" style="font-family:'Liberation Sans',Arial,sans-serif;font-size:10.5px" fill="#000">98.50</text>
<text x="447.5" y="26.9" style="font-family:'Liberation Sans',Arial,sans-serif;font-size:11px;font-weight:bold" fill="#000">High</text>
<text x="474.8" y="26.9" style="font-family:'Liberation Sans',Arial,sans-serif;font-size:10.5px" fill="#000">98.60</text>
<text x="507.6" y="26.9" style="font-family:'Liberation Sans',Arial,sans-serif;font-size:11px;font-weight:bold" fill="#000">Low</text>
<text x="534.6" y="26.9" style="font-family:'Liberation Sans',Arial,sans-serif;font-size:10.5px" fill="#000">98.44</text>
<text x="566.5" y="26.9" style="font-family:'Liberation Sans',Arial,sans-serif;font-size:11px;font-weight:bold" fill="#000">Last</text>
<text x="594.4" y="26.9" style="font-family:'Liberation Sans',Arial,sans-serif;font-size:10.5px" fill="#000">98.55</text>
<text x="627.8" y="26.9" style="font-family:'Liberation Sans',Arial,sans-serif;font-size:11px;font-weight:bold" fill="#000">Chg</text>
<text x="652.8" y="26.9" style="font-family:'Liberation Sans',Arial,sans-serif;font-size:10.5px" fill="#000">+0.06 (+0.06%)</text>
<polygon points="727.8,25.8 731.4,22 735,25.8" fill="#008000"/>
<rect x="305.5" y="36.5" width="422" height="121" fill="#fff" stroke="#707070" stroke-width="1" shape-rendering="crispEdges"/>
<text x="309" y="54.8" style="font-family:'Liberation Sans',Arial,sans-serif;font-size:16px;font-weight:bold" fill="#000">USD upside rejection? Supposed to be this easy?</text>
<text x="309" y="73.8" style="font-family:'Liberation Sans',Arial,sans-serif;font-size:16px;font-weight:bold" fill="#000">Given where CPI was and is (to come in as),</text>
<text x="309" y="92.8" style="font-family:'Liberation Sans',Arial,sans-serif;font-size:16px;font-weight:bold" fill="#000">considering various currency pairs&#39; reversals</text>
<text x="309" y="111.8" style="font-family:'Liberation Sans',Arial,sans-serif;font-size:16px;font-weight:bold" fill="#000">yesterday... EURUSD between 1.1675 and 1.1600 first</text>
<text x="309" y="130.8" style="font-family:'Liberation Sans',Arial,sans-serif;font-size:16px;font-weight:bold" fill="#000">demand zone, will make a decisive move on</text>
<text x="309" y="149.8" style="font-family:'Liberation Sans',Arial,sans-serif;font-size:16px;font-weight:bold" fill="#000">reassessing Fed&#39;s rate policy after the data comes in.</text>
<rect x="135.2" y="288.7" width="168" height="24.6" fill="#fff63a" stroke="#1a1a28" stroke-width="1.4"/>
<text x="140.6" y="306.2" style="font-family:'Liberation Sans',Arial,sans-serif;font-size:17.7px;font-weight:bold" fill="#000">monicakingsley.co</text>
</svg>
</body></html>
